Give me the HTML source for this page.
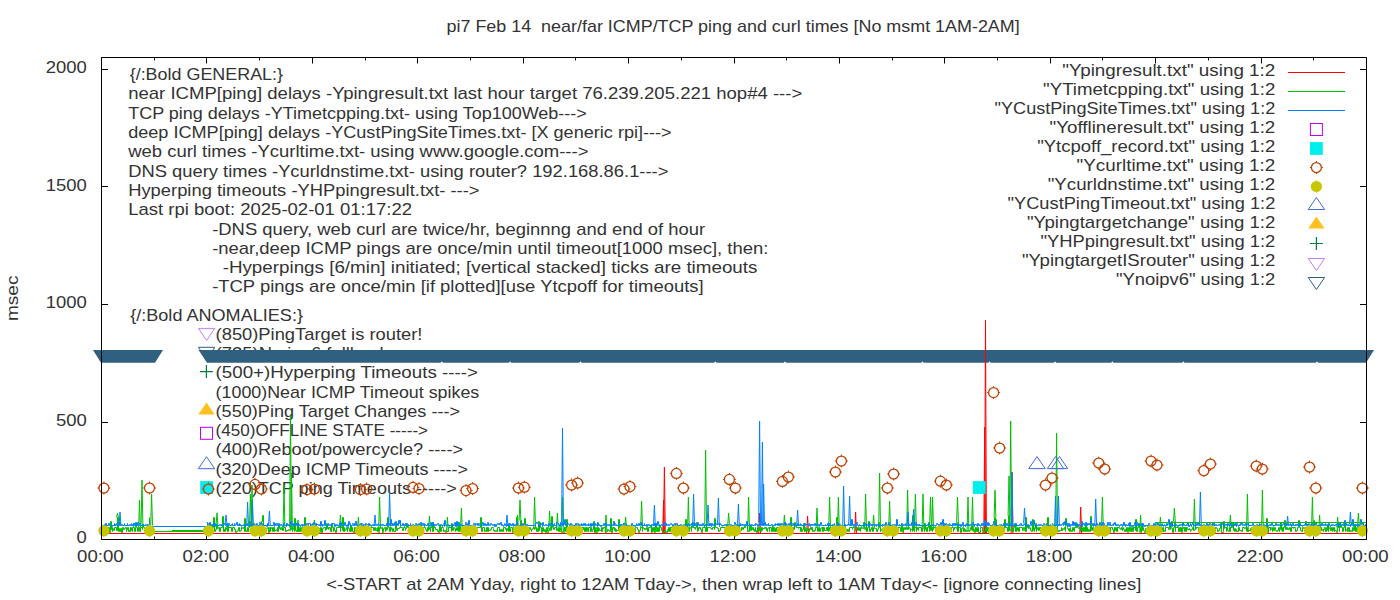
<!DOCTYPE html>
<html><head><meta charset="utf-8"><style>
html,body{margin:0;padding:0;background:#fff;width:1400px;height:600px;overflow:hidden}
svg{display:block}
text{white-space:pre;font-family:"Liberation Sans",sans-serif;font-size:16.6px;fill:#333}
</style></head><body>
<svg width="1400" height="600" viewBox="0 0 1400 600">
<rect width="1400" height="600" fill="#fff"/>
<g><path d="M101.5,539.5h6.5M1366.5,539.5h-6.5M101.5,422.5h6.5M1366.5,422.5h-6.5M101.5,304.5h6.5M1366.5,304.5h-6.5M101.5,186.5h6.5M1366.5,186.5h-6.5M101.5,69.5h6.5M1366.5,69.5h-6.5M101.5,539.5v-6M101.5,57.5v6M154.5,539.5v-3M154.5,57.5v3M206.5,539.5v-6M206.5,57.5v6M259.5,539.5v-3M259.5,57.5v3M312.5,539.5v-6M312.5,57.5v6M365.5,539.5v-3M365.5,57.5v3M417.5,539.5v-6M417.5,57.5v6M470.5,539.5v-3M470.5,57.5v3M523.5,539.5v-6M523.5,57.5v6M575.5,539.5v-3M575.5,57.5v3M628.5,539.5v-6M628.5,57.5v6M681.5,539.5v-3M681.5,57.5v3M734.5,539.5v-6M734.5,57.5v6M786.5,539.5v-3M786.5,57.5v3M839.5,539.5v-6M839.5,57.5v6M892.5,539.5v-3M892.5,57.5v3M944.5,539.5v-6M944.5,57.5v6M997.5,539.5v-3M997.5,57.5v3M1050.5,539.5v-6M1050.5,57.5v6M1102.5,539.5v-3M1102.5,57.5v3M1155.5,539.5v-6M1155.5,57.5v6M1208.5,539.5v-3M1208.5,57.5v3M1261.5,539.5v-6M1261.5,57.5v6M1313.5,539.5v-3M1313.5,57.5v3M1366.5,539.5v-6M1366.5,57.5v6" stroke="#000" stroke-width="1" fill="none"/></g>
<g><text x="446.50" y="31.75" textLength="573.22" lengthAdjust="spacingAndGlyphs" >pi7 Feb 14  near/far ICMP/TCP ping and curl times [No msmt 1AM-2AM]</text>
<text x="326.20" y="589.60" textLength="815.10" lengthAdjust="spacingAndGlyphs" >&lt;-START at 2AM Yday, right to 12AM Tday-&gt;, then wrap left to 1AM Tday&lt;- [ignore connecting lines]</text>
<text transform="translate(17.6,321.07) rotate(-90)" x="0" y="0" textLength="45.54" lengthAdjust="spacingAndGlyphs">msec</text>
<text x="76.52" y="543.40" textLength="10.28" lengthAdjust="spacingAndGlyphs" >0</text>
<text x="55.96" y="425.90" textLength="30.84" lengthAdjust="spacingAndGlyphs" >500</text>
<text x="45.68" y="308.40" textLength="41.12" lengthAdjust="spacingAndGlyphs" >1000</text>
<text x="45.68" y="190.90" textLength="41.12" lengthAdjust="spacingAndGlyphs" >1500</text>
<text x="45.68" y="73.40" textLength="41.12" lengthAdjust="spacingAndGlyphs" >2000</text>
<text x="77.12" y="561.60" textLength="46.56" lengthAdjust="spacingAndGlyphs" >00:00</text>
<text x="182.54" y="561.60" textLength="46.56" lengthAdjust="spacingAndGlyphs" >02:00</text>
<text x="287.96" y="561.60" textLength="46.56" lengthAdjust="spacingAndGlyphs" >04:00</text>
<text x="393.37" y="561.60" textLength="46.56" lengthAdjust="spacingAndGlyphs" >06:00</text>
<text x="498.79" y="561.60" textLength="46.56" lengthAdjust="spacingAndGlyphs" >08:00</text>
<text x="604.21" y="561.60" textLength="46.56" lengthAdjust="spacingAndGlyphs" >10:00</text>
<text x="709.62" y="561.60" textLength="46.56" lengthAdjust="spacingAndGlyphs" >12:00</text>
<text x="815.04" y="561.60" textLength="46.56" lengthAdjust="spacingAndGlyphs" >14:00</text>
<text x="920.46" y="561.60" textLength="46.56" lengthAdjust="spacingAndGlyphs" >16:00</text>
<text x="1025.87" y="561.60" textLength="46.56" lengthAdjust="spacingAndGlyphs" >18:00</text>
<text x="1131.29" y="561.60" textLength="46.56" lengthAdjust="spacingAndGlyphs" >20:00</text>
<text x="1236.71" y="561.60" textLength="46.56" lengthAdjust="spacingAndGlyphs" >22:00</text>
<text x="1342.12" y="561.60" textLength="46.56" lengthAdjust="spacingAndGlyphs" >00:00</text>
<text x="129.70" y="79.70" textLength="153.35" lengthAdjust="spacingAndGlyphs" >{/:Bold GENERAL:}</text>
<text x="128.20" y="99.40" textLength="674.08" lengthAdjust="spacingAndGlyphs" >near ICMP[ping] delays -Ypingresult.txt last hour target 76.239.205.221 hop#4 ---&gt;</text>
<text x="128.20" y="118.80" textLength="458.57" lengthAdjust="spacingAndGlyphs" >TCP ping delays -YTimetcpping.txt- using Top100Web---&gt;</text>
<text x="128.20" y="138.10" textLength="543.44" lengthAdjust="spacingAndGlyphs" >deep ICMP[ping] delays -YCustPingSiteTimes.txt- [X generic rpi]---&gt;</text>
<text x="128.20" y="157.40" textLength="460.25" lengthAdjust="spacingAndGlyphs" >web curl times -Ycurltime.txt- using www.google.com---&gt;</text>
<text x="128.20" y="176.60" textLength="540.22" lengthAdjust="spacingAndGlyphs" >DNS query times -Ycurldnstime.txt- using router? 192.168.86.1---&gt;</text>
<text x="128.20" y="195.90" textLength="351.35" lengthAdjust="spacingAndGlyphs" >Hyperping timeouts -YHPpingresult.txt- ---&gt;</text>
<text x="128.20" y="215.10" textLength="283.84" lengthAdjust="spacingAndGlyphs" >Last rpi boot: 2025-02-01 01:17:22</text>
<text x="212.20" y="234.60" textLength="493.01" lengthAdjust="spacingAndGlyphs" >-DNS query, web curl are twice/hr, beginnng and end of hour</text>
<text x="212.20" y="253.60" textLength="556.20" lengthAdjust="spacingAndGlyphs" >-near,deep ICMP pings are once/min until timeout[1000 msec], then:</text>
<text x="212.20" y="272.70" textLength="545.24" lengthAdjust="spacingAndGlyphs" >  -Hyperpings [6/min] initiated; [vertical stacked] ticks are timeouts</text>
<text x="212.20" y="291.70" textLength="491.40" lengthAdjust="spacingAndGlyphs" >-TCP pings are once/min [if plotted][use Ytcpoff for timeouts]</text>
<text x="130.20" y="320.60" textLength="172.76" lengthAdjust="spacingAndGlyphs" >{/:Bold ANOMALIES:}</text>
<text x="215.60" y="340.00" textLength="206.78" lengthAdjust="spacingAndGlyphs" >(850)PingTarget is router!</text>
<text x="215.60" y="359.20" textLength="173.22" lengthAdjust="spacingAndGlyphs" >(725)No ipv6 fallback</text>
<text x="215.60" y="378.40" textLength="262.26" lengthAdjust="spacingAndGlyphs" >(500+)Hyperping Timeouts ----&gt;</text>
<text x="215.60" y="397.60" textLength="263.70" lengthAdjust="spacingAndGlyphs" >(1000)Near ICMP Timeout spikes</text>
<text x="215.60" y="416.80" textLength="244.48" lengthAdjust="spacingAndGlyphs" >(550)Ping Target Changes ---&gt;</text>
<text x="215.60" y="436.00" textLength="212.49" lengthAdjust="spacingAndGlyphs" >(450)OFFLINE STATE -----&gt;</text>
<text x="215.60" y="455.20" textLength="247.55" lengthAdjust="spacingAndGlyphs" >(400)Reboot/powercycle? ----&gt;</text>
<text x="215.60" y="474.60" textLength="252.41" lengthAdjust="spacingAndGlyphs" >(320)Deep ICMP Timeouts ----&gt;</text>
<text x="215.60" y="494.00" textLength="241.14" lengthAdjust="spacingAndGlyphs" >(220)TCP ping Timeouts -----&gt;</text>
<text x="1062.39" y="75.80" textLength="212.91" lengthAdjust="spacingAndGlyphs" >&quot;Ypingresult.txt&quot; using 1:2</text>
<text x="1043.09" y="94.80" textLength="232.21" lengthAdjust="spacingAndGlyphs" >&quot;YTimetcpping.txt&quot; using 1:2</text>
<text x="994.59" y="113.80" textLength="280.71" lengthAdjust="spacingAndGlyphs" >&quot;YCustPingSiteTimes.txt&quot; using 1:2</text>
<text x="1049.60" y="132.80" textLength="225.70" lengthAdjust="spacingAndGlyphs" >&quot;Yofflineresult.txt&quot; using 1:2</text>
<text x="1037.18" y="151.80" textLength="238.12" lengthAdjust="spacingAndGlyphs" >&quot;Ytcpoff_record.txt&quot; using 1:2</text>
<text x="1076.57" y="170.80" textLength="198.73" lengthAdjust="spacingAndGlyphs" >&quot;Ycurltime.txt&quot; using 1:2</text>
<text x="1047.68" y="189.80" textLength="227.62" lengthAdjust="spacingAndGlyphs" >&quot;Ycurldnstime.txt&quot; using 1:2</text>
<text x="1007.57" y="208.80" textLength="267.73" lengthAdjust="spacingAndGlyphs" >&quot;YCustPingTimeout.txt&quot; using 1:2</text>
<text x="1026.93" y="227.80" textLength="248.37" lengthAdjust="spacingAndGlyphs" >&quot;Ypingtargetchange&quot; using 1:2</text>
<text x="1040.50" y="246.80" textLength="234.80" lengthAdjust="spacingAndGlyphs" >&quot;YHPpingresult.txt&quot; using 1:2</text>
<text x="1022.03" y="265.80" textLength="253.27" lengthAdjust="spacingAndGlyphs" >&quot;YpingtargetISrouter&quot; using 1:2</text>
<text x="1115.99" y="284.80" textLength="159.31" lengthAdjust="spacingAndGlyphs" >&quot;Ynoipv6&quot; using 1:2</text></g>
<g><line x1="1288" y1="72.50" x2="1345" y2="72.50" stroke="#ff0000" stroke-width="1.2"/>
<line x1="1288" y1="91.50" x2="1345" y2="91.50" stroke="#00c000" stroke-width="1.2"/>
<line x1="1288" y1="110.50" x2="1345" y2="110.50" stroke="#0080ff" stroke-width="1.2"/>
<rect x="1310.40" y="123.50" width="12" height="12" fill="none" stroke="#c000ff" stroke-width="1"/>
<rect x="1310.00" y="142.10" width="12.8" height="12.8" fill="#00eeee"/>
<circle cx="1316.40" cy="167.50" r="5.0" fill="none" stroke="#c04000" stroke-width="1.25"/><path d="M1316.40,161.00v2M1316.40,172.00v2M1309.90,167.50h2M1320.90,167.50h2" stroke="#c04000" stroke-width="1"/>
<circle cx="1316.40" cy="186.50" r="5.6" fill="#c8c800"/><path d="M1316.40,180.30v12.4" stroke="#c8c800" stroke-width="1"/>
<polygon points="1308.20,209.50 1324.60,209.50 1316.40,197.50" fill="none" stroke="#4169e1" stroke-width="1"/>
<polygon points="1308.20,228.50 1324.60,228.50 1316.40,216.50" fill="#ffc020"/>
<path d="M1309.90,243.50H1322.90M1316.40,237.00V250.00" stroke="#008040" stroke-width="1.2" fill="none"/>
<polygon points="1308.20,258.50 1324.60,258.50 1316.40,270.50" fill="none" stroke="#c080ff" stroke-width="1"/>
<polygon points="1308.20,277.50 1324.60,277.50 1316.40,289.50" fill="none" stroke="#306080" stroke-width="1"/>
<polygon points="198.40,328.40 214.80,328.40 206.60,340.40" fill="none" stroke="#c080ff" stroke-width="1"/>
<polygon points="198.40,347.30 214.80,347.30 206.60,359.30" fill="none" stroke="#306080" stroke-width="1"/>
<path d="M199.90,371.60H212.90M206.40,365.10V378.10" stroke="#008040" stroke-width="1.2" fill="none"/>
<polygon points="198.30,414.40 214.70,414.40 206.50,402.40" fill="#ffc020"/>
<rect x="200.50" y="427.30" width="12" height="12" fill="none" stroke="#c000ff" stroke-width="1"/>
<polygon points="198.30,468.70 214.70,468.70 206.50,456.70" fill="none" stroke="#4169e1" stroke-width="1"/>
<rect x="200.20" y="481.10" width="12.8" height="12.8" fill="#00eeee"/></g>
<g><path d="M101.5,533.5H149.5M206.5,533.5H1366.5M662.70,533.5L663.60,500.0L664.50,533.5M663.50,533.5L664.40,467.0L665.30,533.5M758.70,533.5L759.60,513.0L760.50,533.5M806.70,533.5L807.60,516.0L808.50,533.5M854.70,533.5L855.60,512.0L856.50,533.5M983.80,533.5L984.70,427.0L985.60,533.5M984.60,533.5L985.50,320.0L986.40,533.5M1011.10,533.5L1012.00,472.0L1012.90,533.5M1079.80,533.5L1080.70,507.0L1081.60,533.5" fill="none" stroke="#ff0000" stroke-width="1"/>
<path d="M101.5,527.5H102.5V531.5H102.5V528.5H103.5V531.5H103.5V529.5H104.5V530.5H104.5V527.5H105.5V528.5H105.5V527.5H106.5V529.5H106.5V532.5H107.5V531.5H107.5V527.5H108.5V528.5H108.5V527.5H109.5V532.5H110.5V530.5H110.5V521.5H111.5V529.5H111.5V527.5H112.5V531.5H112.5V528.5H113.5V530.5H114.5V527.5H116.5V530.5H117.5V517.5H118.5V531.5H118.5V528.5H119.5V531.5H120.5V528.5H121.5V532.5H122.5V527.5H123.5V529.5H124.5V528.5H125.5V527.5H126.5V531.5H126.5V529.5H127.5V527.5H128.5V531.5H129.5V530.5H129.5V531.5H130.5V527.5H131.5V530.5H131.5V528.5H132.5V531.5H132.5V527.5H134.5V531.5H135.5V527.5H135.5V522.5H136.5V527.5H137.5V531.5H137.5V530.5H138.5V528.5H138.5V527.5H139.5V530.5H139.5V531.5H140.5V527.5H142.5V529.5H142.5V524.5H143.5V527.5H144.5V528.5H145.5V531.5H146.5V530.5H147.5V531.5H147.5V527.5H149.5V531.5H149.5V517.5H149.5M206.5,527.5H208.5V529.5H208.5V527.5H209.5V528.5H209.5V532.5H210.5V528.5H210.5V527.5H211.5V524.5H212.5V527.5H213.5V517.5H214.5V531.5H215.5V529.5H216.5V524.5H217.5V528.5H218.5V527.5H219.5V531.5H219.5V529.5H220.5V531.5H220.5V527.5H222.5V516.5H223.5V531.5H223.5V529.5H224.5V531.5H224.5V529.5H225.5V531.5H225.5V527.5H226.5V529.5H227.5V531.5H227.5V524.5H228.5V531.5H228.5V527.5H231.5V531.5H232.5V527.5H234.5V529.5H235.5V532.5H236.5V531.5H237.5V530.5H238.5V527.5H239.5V531.5H240.5V530.5H241.5V527.5H242.5V528.5H243.5V527.5H244.5V531.5H244.5V518.5H245.5V531.5H245.5V530.5H246.5V531.5H247.5V527.5H247.5V530.5H248.5V531.5H248.5V527.5H249.5V521.5H250.5V526.5H251.5V531.5H251.5V527.5H253.5V528.5H254.5V530.5H254.5V527.5H255.5V529.5H257.5V527.5H258.5V529.5H259.5V527.5H260.5V530.5H261.5V531.5H261.5V521.5H262.5V515.5H263.5V527.5H264.5V529.5H265.5V531.5H265.5V530.5H266.5V528.5H267.5V527.5H268.5V532.5H269.5V529.5H269.5V527.5H270.5V531.5H270.5V527.5H271.5V528.5H272.5V531.5H272.5V527.5H273.5V531.5H273.5V527.5H274.5V531.5H274.5V530.5H276.5V529.5H277.5V527.5H277.5V531.5H278.5V525.5H279.5V528.5H279.5V527.5H280.5V529.5H281.5V527.5H282.5V530.5H283.5V527.5H285.5V531.5H286.5V530.5H288.5V529.5H289.5V530.5H290.5V527.5H291.5V529.5H292.5V531.5H292.5V527.5H293.5V529.5H294.5V531.5H294.5V518.5H295.5V530.5H296.5V531.5H297.5V527.5H297.5V528.5H298.5V531.5H299.5V527.5H300.5V531.5H301.5V527.5H302.5V531.5H302.5V527.5H303.5V529.5H304.5V531.5H304.5V517.5H305.5V531.5H305.5V527.5H306.5V531.5H307.5V527.5H308.5V531.5H308.5V529.5H309.5V527.5H310.5V528.5H312.5V527.5H313.5V528.5H314.5V531.5H315.5V527.5H316.5V529.5H316.5V527.5H318.5V528.5H319.5V532.5H320.5V531.5H320.5V527.5H321.5V532.5H322.5V528.5H323.5V527.5H325.5V530.5H325.5V527.5H326.5V529.5H326.5V523.5H327.5V528.5H328.5V529.5H328.5V527.5H329.5V528.5H329.5V527.5H330.5V531.5H331.5V523.5H332.5V527.5H333.5V531.5H333.5V527.5H334.5V530.5H335.5V532.5H336.5V527.5H339.5V523.5H340.5V531.5H340.5V527.5H342.5V530.5H342.5V517.5H343.5V531.5H343.5V527.5H344.5V531.5H344.5V530.5H345.5V529.5H346.5V527.5H347.5V531.5H347.5V527.5H348.5V528.5H349.5V531.5H350.5V525.5H351.5V531.5H351.5V527.5H352.5V531.5H353.5V532.5H354.5V527.5H355.5V530.5H356.5V527.5H357.5V528.5H357.5V527.5H358.5V529.5H359.5V527.5H360.5V530.5H361.5V531.5H363.5V527.5H364.5V531.5H364.5V527.5H365.5V528.5H365.5V531.5H367.5V532.5H368.5V531.5H368.5V529.5H369.5V530.5H370.5V527.5H373.5V530.5H374.5V527.5H375.5V530.5H376.5V529.5H376.5V528.5H377.5V531.5H377.5V527.5H378.5V531.5H378.5V532.5H379.5V531.5H379.5V527.5H380.5V528.5H381.5V527.5H382.5V532.5H383.5V531.5H383.5V528.5H384.5V527.5H385.5V531.5H385.5V527.5H386.5V530.5H386.5V529.5H387.5V527.5H387.5V517.5H388.5V527.5H389.5V531.5H389.5V527.5H390.5V531.5H390.5V527.5H391.5V529.5H392.5V531.5H392.5V528.5H393.5V531.5H395.5V529.5H395.5V521.5H396.5V529.5H396.5V530.5H397.5V528.5H399.5V527.5H402.5V528.5H402.5V530.5H403.5V527.5H405.5V530.5H405.5V528.5H406.5V527.5H406.5V523.5H407.5V527.5H409.5V530.5H410.5V529.5H410.5V527.5H412.5V531.5H412.5V524.5H413.5V528.5H414.5V531.5H415.5V527.5H416.5V531.5H416.5V530.5H417.5V531.5H417.5V527.5H418.5V531.5H418.5V524.5H419.5V530.5H419.5V529.5H420.5V531.5H420.5V527.5H425.5V529.5H426.5V531.5H427.5V527.5H428.5V530.5H428.5V527.5H429.5V529.5H430.5V531.5H430.5V527.5H432.5V531.5H432.5V522.5H433.5V531.5H433.5V527.5H435.5V529.5H437.5V531.5H437.5V530.5H438.5V532.5H439.5V531.5H439.5V524.5H440.5V531.5H440.5V530.5H441.5V531.5H441.5V527.5H443.5V528.5H443.5V531.5H444.5V530.5H445.5V531.5H445.5V532.5H446.5V531.5H448.5V527.5H451.5V531.5H451.5V523.5H452.5V530.5H453.5V527.5H454.5V528.5H455.5V531.5H455.5V530.5H456.5V527.5H457.5V530.5H458.5V531.5H458.5V522.5H459.5V531.5H459.5V527.5H460.5V531.5H460.5V530.5H461.5V529.5H461.5V530.5H462.5V531.5H462.5V527.5H463.5V531.5H463.5V527.5H464.5V531.5H465.5V529.5H465.5V527.5H466.5V531.5H466.5V527.5H469.5V531.5H470.5V528.5H470.5V527.5H471.5V532.5H472.5V531.5H472.5V527.5H474.5V529.5H475.5V527.5H480.5V517.5H481.5V531.5H482.5V527.5H484.5V531.5H484.5V530.5H485.5V531.5H486.5V527.5H487.5V531.5H487.5V527.5H488.5V531.5H488.5V530.5H490.5V529.5H491.5V527.5H493.5V528.5H493.5V530.5H494.5V531.5H494.5V530.5H495.5V531.5H496.5V530.5H497.5V531.5H497.5V527.5H499.5V531.5H500.5V529.5H500.5V530.5H501.5V531.5H501.5V529.5H502.5V531.5H502.5V530.5H503.5V531.5H503.5V527.5H505.5V529.5H506.5V531.5H506.5V528.5H507.5V530.5H508.5V531.5H508.5V525.5H509.5V531.5H510.5V528.5H510.5V527.5H512.5V532.5H513.5V531.5H513.5V527.5H514.5V531.5H515.5V527.5H516.5V531.5H516.5V517.5H517.5V528.5H518.5V530.5H518.5V531.5H519.5V527.5H519.5V531.5H520.5V520.5H521.5V531.5H521.5V529.5H523.5V524.5H524.5V531.5H524.5V518.5H525.5V530.5H525.5V529.5H526.5V530.5H526.5V532.5H527.5V527.5H528.5V528.5H529.5V531.5H529.5V527.5H530.5V529.5H531.5V531.5H531.5V529.5H532.5V528.5H533.5V527.5H534.5V529.5H534.5V528.5H535.5V527.5H536.5V531.5H537.5V528.5H538.5V531.5H538.5V521.5H539.5V530.5H539.5V522.5H540.5V527.5H541.5V532.5H542.5V531.5H542.5V527.5H543.5V531.5H544.5V529.5H545.5V532.5H546.5V527.5H547.5V531.5H547.5V532.5H548.5V530.5H549.5V528.5H549.5V529.5H550.5V530.5H551.5V516.5H552.5V527.5H553.5V529.5H554.5V527.5H556.5V528.5H556.5V530.5H557.5V528.5H558.5V531.5H559.5V527.5H560.5V530.5H560.5V531.5H561.5V532.5H562.5V531.5H563.5V532.5H564.5V531.5H564.5V527.5H565.5V531.5H565.5V527.5H566.5V531.5H566.5V519.5H567.5V527.5H570.5V531.5H570.5V527.5H571.5V532.5H572.5V527.5H573.5V531.5H573.5V529.5H574.5V531.5H574.5V528.5H575.5V531.5H575.5V530.5H576.5V531.5H577.5V527.5H578.5V528.5H579.5V527.5H583.5V529.5H583.5V527.5H584.5V531.5H584.5V529.5H585.5V531.5H585.5V527.5H586.5V531.5H586.5V527.5H587.5V530.5H587.5V531.5H588.5V527.5H590.5V531.5H590.5V527.5H591.5V531.5H592.5V530.5H592.5V529.5H593.5V521.5H594.5V532.5H595.5V527.5H596.5V529.5H596.5V532.5H597.5V531.5H597.5V527.5H598.5V531.5H598.5V528.5H599.5V530.5H601.5V531.5H601.5V527.5H602.5V531.5H602.5V528.5H603.5V527.5H605.5V529.5H605.5V532.5H606.5V531.5H607.5V529.5H608.5V530.5H609.5V531.5H610.5V518.5H611.5V530.5H611.5V532.5H612.5V527.5H613.5V528.5H613.5V527.5H614.5V530.5H614.5V528.5H615.5V531.5H615.5V529.5H616.5V531.5H616.5V530.5H618.5V519.5H619.5V530.5H619.5V529.5H620.5V532.5H621.5V530.5H622.5V532.5H623.5V523.5H624.5V531.5H625.5V527.5H626.5V531.5H627.5V527.5H628.5V531.5H629.5V530.5H629.5V527.5H630.5V531.5H630.5V529.5H631.5V531.5H632.5V530.5H633.5V529.5H634.5V532.5H635.5V528.5H635.5V527.5H637.5V529.5H638.5V531.5H638.5V532.5H639.5V530.5H640.5V527.5H642.5V531.5H642.5V527.5H643.5V528.5H644.5V529.5H644.5V528.5H645.5V529.5H646.5V527.5H647.5V531.5H648.5V527.5H650.5V525.5H651.5V532.5H652.5V531.5H652.5V527.5H653.5V531.5H653.5V527.5H654.5V530.5H654.5V532.5H655.5V531.5H655.5V523.5H656.5V529.5H656.5V531.5H657.5V527.5H658.5V531.5H659.5V525.5H660.5V527.5H661.5V530.5H662.5V532.5H664.5V530.5H665.5V531.5H666.5V532.5H667.5V530.5H667.5V529.5H668.5V531.5H668.5V527.5H669.5V531.5H670.5V527.5H672.5V531.5H672.5V528.5H673.5V530.5H673.5V527.5H676.5V529.5H677.5V531.5H677.5V530.5H678.5V531.5H678.5V532.5H679.5V531.5H680.5V532.5H681.5V531.5H681.5V529.5H682.5V530.5H683.5V529.5H684.5V531.5H684.5V527.5H685.5V519.5H686.5V531.5H686.5V530.5H687.5V531.5H687.5V527.5H688.5V530.5H689.5V531.5H689.5V528.5H690.5V527.5H691.5V531.5H691.5V525.5H692.5V527.5H694.5V528.5H694.5V527.5H695.5V529.5H695.5V527.5H696.5V522.5H697.5V531.5H697.5V530.5H698.5V527.5H699.5V528.5H699.5V527.5H700.5V529.5H701.5V532.5H702.5V531.5H702.5V527.5H705.5V531.5H705.5V527.5H706.5V531.5H706.5V527.5H707.5V531.5H707.5V527.5H710.5V528.5H711.5V529.5H712.5V527.5H714.5V529.5H714.5V518.5H715.5V527.5H717.5V528.5H718.5V531.5H719.5V530.5H720.5V527.5H725.5V530.5H726.5V524.5H727.5V529.5H727.5V527.5H728.5V531.5H728.5V525.5H729.5V529.5H730.5V528.5H731.5V531.5H732.5V530.5H732.5V527.5H734.5V529.5H736.5V531.5H736.5V532.5H738.5V529.5H738.5V524.5H739.5V530.5H740.5V531.5H740.5V530.5H741.5V527.5H742.5V529.5H743.5V527.5H745.5V525.5H746.5V523.5H747.5V531.5H748.5V530.5H749.5V531.5H749.5V530.5H750.5V525.5H751.5V530.5H751.5V527.5H752.5V529.5H752.5V527.5H753.5V530.5H753.5V529.5H754.5V531.5H755.5V527.5H755.5V530.5H756.5V532.5H757.5V527.5H758.5V530.5H759.5V527.5H760.5V531.5H760.5V528.5H761.5V531.5H761.5V527.5H762.5V530.5H762.5V528.5H764.5V527.5H765.5V528.5H765.5V527.5H766.5V530.5H767.5V531.5H767.5V528.5H768.5V527.5H769.5V531.5H769.5V527.5H771.5V531.5H772.5V526.5H773.5V531.5H773.5V527.5H774.5V531.5H775.5V528.5H775.5V531.5H776.5V527.5H778.5V530.5H779.5V531.5H779.5V527.5H780.5V528.5H780.5V532.5H781.5V527.5H782.5V529.5H782.5V530.5H784.5V531.5H784.5V527.5H785.5V528.5H785.5V531.5H786.5V527.5H788.5V531.5H788.5V527.5H789.5V528.5H790.5V517.5H791.5V528.5H791.5V527.5H792.5V531.5H793.5V527.5H794.5V529.5H794.5V522.5H795.5V526.5H796.5V527.5H798.5V528.5H798.5V527.5H800.5V531.5H800.5V527.5H801.5V531.5H802.5V529.5H803.5V523.5H804.5V531.5H804.5V527.5H805.5V528.5H805.5V531.5H806.5V528.5H807.5V530.5H808.5V531.5H809.5V528.5H809.5V529.5H810.5V527.5H811.5V529.5H811.5V527.5H812.5V531.5H813.5V530.5H814.5V531.5H814.5V530.5H815.5V527.5H817.5V531.5H818.5V527.5H819.5V531.5H820.5V528.5H821.5V527.5H822.5V531.5H822.5V527.5H823.5V531.5H823.5V527.5H824.5V530.5H826.5V527.5H827.5V530.5H827.5V527.5H828.5V531.5H828.5V530.5H829.5V527.5H830.5V528.5H831.5V531.5H832.5V528.5H832.5V529.5H833.5V527.5H834.5V531.5H835.5V530.5H836.5V531.5H836.5V517.5H837.5V527.5H838.5V529.5H839.5V531.5H839.5V527.5H840.5V530.5H840.5V527.5H841.5V530.5H841.5V527.5H842.5V530.5H842.5V527.5H843.5V528.5H843.5V527.5H844.5V531.5H844.5V527.5H845.5V529.5H847.5V531.5H847.5V529.5H848.5V531.5H849.5V527.5H852.5V529.5H852.5V527.5H855.5V530.5H855.5V527.5H857.5V530.5H858.5V527.5H859.5V530.5H860.5V531.5H860.5V527.5H861.5V528.5H861.5V527.5H862.5V528.5H863.5V527.5H863.5V522.5H864.5V527.5H865.5V529.5H866.5V527.5H866.5V531.5H867.5V527.5H868.5V521.5H869.5V531.5H869.5V529.5H870.5V531.5H870.5V529.5H871.5V527.5H872.5V531.5H873.5V527.5H874.5V528.5H876.5V531.5H877.5V529.5H878.5V527.5H878.5V522.5H879.5V527.5H880.5V531.5H880.5V530.5H881.5V529.5H882.5V528.5H883.5V531.5H883.5V529.5H885.5V527.5H886.5V531.5H886.5V529.5H887.5V531.5H887.5V527.5H888.5V528.5H890.5V530.5H890.5V527.5H891.5V529.5H892.5V530.5H893.5V527.5H895.5V529.5H895.5V527.5H896.5V529.5H897.5V527.5H898.5V528.5H898.5V527.5H900.5V531.5H900.5V528.5H901.5V531.5H901.5V524.5H902.5V531.5H902.5V532.5H903.5V527.5H904.5V529.5H905.5V527.5H906.5V529.5H907.5V527.5H908.5V529.5H908.5V527.5H909.5V528.5H910.5V531.5H910.5V529.5H912.5V531.5H912.5V515.5H913.5V530.5H913.5V527.5H914.5V531.5H914.5V527.5H916.5V531.5H916.5V527.5H917.5V529.5H918.5V530.5H918.5V527.5H921.5V531.5H921.5V529.5H922.5V531.5H922.5V527.5H923.5V528.5H924.5V531.5H924.5V523.5H925.5V529.5H926.5V531.5H926.5V527.5H927.5V531.5H927.5V527.5H928.5V522.5H929.5V531.5H929.5V527.5H930.5V530.5H930.5V525.5H931.5V530.5H931.5V527.5H932.5V531.5H932.5V529.5H933.5V527.5H935.5V529.5H936.5V527.5H937.5V531.5H938.5V530.5H939.5V528.5H939.5V527.5H940.5V531.5H940.5V528.5H942.5V530.5H942.5V532.5H943.5V527.5H944.5V531.5H944.5V527.5H946.5V530.5H948.5V527.5H949.5V531.5H949.5V527.5H950.5V529.5H951.5V531.5H951.5V527.5H953.5V531.5H953.5V529.5H954.5V527.5H956.5V528.5H956.5V527.5H957.5V531.5H957.5V522.5H958.5V531.5H958.5V527.5H960.5V532.5H961.5V528.5H962.5V527.5H963.5V531.5H963.5V528.5H964.5V531.5H965.5V529.5H965.5V531.5H966.5V530.5H967.5V531.5H968.5V530.5H969.5V531.5H969.5V530.5H970.5V529.5H970.5V527.5H971.5V525.5H972.5V530.5H973.5V531.5H973.5V529.5H974.5V531.5H974.5V532.5H975.5V527.5H976.5V531.5H977.5V527.5H978.5V532.5H980.5V529.5H980.5V527.5H982.5V531.5H982.5V532.5H984.5V530.5H985.5V531.5H985.5V527.5H986.5V531.5H986.5V527.5H987.5V531.5H987.5V527.5H988.5V531.5H988.5V532.5H989.5V531.5H990.5V527.5H991.5V530.5H992.5V531.5H993.5V527.5H994.5V531.5H994.5V517.5H995.5V528.5H995.5V519.5H996.5V527.5H997.5V529.5H997.5V527.5H998.5V528.5H998.5V527.5H999.5V529.5H1000.5V527.5H1001.5V528.5H1002.5V527.5H1003.5V530.5H1004.5V531.5H1004.5V519.5H1005.5V527.5H1007.5V531.5H1007.5V529.5H1008.5V531.5H1008.5V515.5H1009.5V530.5H1012.5V531.5H1012.5V528.5H1013.5V531.5H1013.5V527.5H1014.5V523.5H1015.5V531.5H1016.5V527.5H1017.5V530.5H1018.5V531.5H1018.5V527.5H1019.5V531.5H1019.5V527.5H1022.5V530.5H1023.5V529.5H1023.5V527.5H1024.5V529.5H1024.5V530.5H1025.5V531.5H1025.5V517.5H1026.5V531.5H1026.5V527.5H1027.5V524.5H1028.5V528.5H1029.5V527.5H1030.5V530.5H1031.5V531.5H1032.5V519.5H1033.5V530.5H1033.5V527.5H1034.5V531.5H1034.5V528.5H1035.5V523.5H1036.5V531.5H1036.5V529.5H1037.5V527.5H1038.5V530.5H1039.5V527.5H1040.5V528.5H1040.5V532.5H1041.5V527.5H1042.5V531.5H1042.5V527.5H1043.5V528.5H1044.5V527.5H1044.5V531.5H1045.5V530.5H1046.5V527.5H1047.5V517.5H1048.5V530.5H1049.5V527.5H1051.5V531.5H1051.5V532.5H1052.5V529.5H1052.5V531.5H1053.5V527.5H1054.5V531.5H1054.5V528.5H1055.5V532.5H1056.5V531.5H1056.5V527.5H1057.5V531.5H1058.5V530.5H1058.5V531.5H1059.5V530.5H1061.5V527.5H1061.5V530.5H1062.5V528.5H1063.5V529.5H1064.5V527.5H1065.5V531.5H1065.5V518.5H1066.5V523.5H1067.5V527.5H1067.5V528.5H1068.5V530.5H1069.5V531.5H1069.5V528.5H1070.5V527.5H1070.5V531.5H1071.5V530.5H1072.5V531.5H1072.5V527.5H1073.5V530.5H1074.5V531.5H1074.5V527.5H1076.5V523.5H1077.5V527.5H1078.5V528.5H1079.5V527.5H1080.5V531.5H1080.5V527.5H1081.5V530.5H1082.5V531.5H1082.5V527.5H1083.5V531.5H1084.5V527.5H1085.5V531.5H1085.5V523.5H1086.5V531.5H1086.5V527.5H1087.5V531.5H1088.5V529.5H1089.5V531.5H1089.5V530.5H1090.5V531.5H1090.5V516.5H1091.5V530.5H1092.5V527.5H1093.5V530.5H1094.5V531.5H1095.5V527.5H1097.5V530.5H1098.5V532.5H1099.5V531.5H1100.5V527.5H1101.5V531.5H1102.5V527.5H1103.5V531.5H1103.5V527.5H1104.5V529.5H1105.5V531.5H1105.5V528.5H1106.5V531.5H1107.5V527.5H1108.5V528.5H1109.5V527.5H1109.5V532.5H1110.5V531.5H1110.5V527.5H1112.5V529.5H1113.5V532.5H1114.5V531.5H1114.5V527.5H1115.5V530.5H1116.5V531.5H1116.5V527.5H1117.5V531.5H1117.5V527.5H1119.5V528.5H1120.5V529.5H1121.5V527.5H1122.5V530.5H1122.5V528.5H1123.5V527.5H1123.5V529.5H1124.5V531.5H1125.5V529.5H1126.5V531.5H1126.5V527.5H1127.5V531.5H1127.5V532.5H1128.5V531.5H1128.5V527.5H1129.5V531.5H1129.5V527.5H1130.5V531.5H1131.5V527.5H1132.5V531.5H1132.5V527.5H1133.5V531.5H1133.5V527.5H1135.5V530.5H1135.5V519.5H1136.5V531.5H1137.5V529.5H1137.5V527.5H1138.5V523.5H1139.5V527.5H1140.5V531.5H1140.5V532.5H1141.5V524.5H1142.5V530.5H1142.5V527.5H1143.5V530.5H1144.5V531.5H1144.5V532.5H1145.5V528.5H1146.5V531.5H1147.5V528.5H1147.5V525.5H1148.5V531.5H1148.5V527.5H1149.5V530.5H1149.5V529.5H1150.5V527.5H1151.5V531.5H1151.5V527.5H1154.5V531.5H1155.5V528.5H1155.5V530.5H1156.5V527.5H1158.5V531.5H1158.5V530.5H1159.5V531.5H1160.5V529.5H1161.5V531.5H1161.5V530.5H1162.5V531.5H1162.5V527.5H1163.5V531.5H1163.5V530.5H1164.5V531.5H1165.5V527.5H1168.5V529.5H1169.5V528.5H1169.5V524.5H1170.5V529.5H1170.5V527.5H1171.5V528.5H1172.5V532.5H1173.5V527.5H1174.5V521.5H1175.5V531.5H1175.5V527.5H1178.5V531.5H1179.5V527.5H1180.5V531.5H1180.5V527.5H1181.5V532.5H1182.5V531.5H1182.5V527.5H1183.5V528.5H1183.5V527.5H1184.5V531.5H1184.5V527.5H1185.5V531.5H1185.5V527.5H1186.5V531.5H1186.5V527.5H1187.5V528.5H1187.5V529.5H1189.5V528.5H1189.5V529.5H1190.5V531.5H1190.5V530.5H1191.5V529.5H1192.5V527.5H1193.5V530.5H1194.5V529.5H1195.5V527.5H1196.5V528.5H1196.5V527.5H1198.5V529.5H1198.5V531.5H1199.5V527.5H1201.5V528.5H1201.5V530.5H1203.5V531.5H1204.5V530.5H1205.5V527.5H1206.5V528.5H1207.5V529.5H1209.5V531.5H1209.5V532.5H1210.5V527.5H1211.5V530.5H1212.5V527.5H1214.5V532.5H1215.5V531.5H1215.5V527.5H1216.5V528.5H1217.5V531.5H1218.5V530.5H1219.5V528.5H1220.5V523.5H1221.5V529.5H1221.5V532.5H1223.5V531.5H1223.5V521.5H1224.5V528.5H1224.5V527.5H1226.5V531.5H1226.5V527.5H1227.5V530.5H1228.5V531.5H1229.5V527.5H1230.5V531.5H1230.5V527.5H1232.5V522.5H1233.5V530.5H1234.5V531.5H1234.5V528.5H1235.5V531.5H1235.5V529.5H1236.5V531.5H1238.5V527.5H1239.5V530.5H1241.5V531.5H1242.5V527.5H1244.5V528.5H1245.5V527.5H1246.5V529.5H1246.5V527.5H1247.5V531.5H1248.5V530.5H1250.5V528.5H1250.5V530.5H1251.5V531.5H1251.5V527.5H1253.5V531.5H1253.5V527.5H1254.5V531.5H1255.5V529.5H1256.5V530.5H1257.5V529.5H1258.5V530.5H1259.5V529.5H1259.5V532.5H1260.5V530.5H1261.5V531.5H1262.5V530.5H1262.5V532.5H1263.5V531.5H1263.5V530.5H1264.5V531.5H1265.5V529.5H1265.5V527.5H1266.5V528.5H1266.5V518.5H1267.5V532.5H1268.5V527.5H1270.5V530.5H1270.5V527.5H1271.5V528.5H1271.5V529.5H1272.5V531.5H1272.5V527.5H1273.5V530.5H1274.5V527.5H1275.5V529.5H1275.5V530.5H1276.5V531.5H1277.5V530.5H1278.5V527.5H1279.5V531.5H1279.5V529.5H1280.5V522.5H1281.5V530.5H1282.5V531.5H1282.5V527.5H1283.5V531.5H1283.5V527.5H1284.5V520.5H1285.5V529.5H1286.5V527.5H1287.5V529.5H1288.5V528.5H1288.5V529.5H1289.5V527.5H1290.5V531.5H1291.5V527.5H1293.5V528.5H1293.5V527.5H1295.5V528.5H1295.5V531.5H1296.5V530.5H1297.5V527.5H1298.5V520.5H1299.5V527.5H1300.5V530.5H1301.5V531.5H1302.5V527.5H1303.5V528.5H1304.5V527.5H1305.5V531.5H1305.5V527.5H1306.5V530.5H1307.5V532.5H1308.5V531.5H1308.5V527.5H1309.5V528.5H1310.5V531.5H1310.5V527.5H1312.5V531.5H1312.5V529.5H1313.5V531.5H1313.5V520.5H1314.5V530.5H1315.5V531.5H1315.5V522.5H1316.5V527.5H1317.5V531.5H1317.5V529.5H1318.5V527.5H1319.5V530.5H1320.5V527.5H1321.5V530.5H1322.5V529.5H1323.5V531.5H1323.5V529.5H1324.5V528.5H1324.5V527.5H1325.5V531.5H1326.5V529.5H1326.5V527.5H1327.5V530.5H1327.5V524.5H1328.5V531.5H1328.5V528.5H1329.5V527.5H1330.5V530.5H1331.5V527.5H1332.5V531.5H1332.5V530.5H1333.5V527.5H1334.5V531.5H1334.5V530.5H1336.5V531.5H1336.5V532.5H1337.5V531.5H1337.5V527.5H1339.5V531.5H1339.5V522.5H1340.5V527.5H1340.5V524.5H1341.5V527.5H1342.5V531.5H1342.5V530.5H1343.5V531.5H1343.5V527.5H1344.5V523.5H1345.5V531.5H1345.5V530.5H1346.5V529.5H1347.5V531.5H1347.5V527.5H1348.5V529.5H1348.5V531.5H1349.5V527.5H1349.5V531.5H1350.5V530.5H1351.5V531.5H1352.5V527.5H1353.5V530.5H1354.5V524.5H1355.5V531.5H1355.5V528.5H1356.5V531.5H1356.5V527.5H1357.5V529.5H1357.5V528.5H1358.5V526.5H1359.5V527.5H1360.5V531.5H1360.5V532.5H1361.5V531.5H1362.5V529.5H1363.5V531.5H1363.5V530.5H1365.5V528.5H1366.5V527.5H1366.5M116.60,517.5L117.50,513.0L118.40,517.5M138.60,531.5L139.50,500.0L140.40,531.5M141.10,524.5L142.00,480.0L142.90,524.5M150.70,525.5L151.60,494.0L152.50,525.5M216.10,524.5L217.00,513.0L217.90,524.5M249.50,526.5L250.40,494.0L251.30,526.5M251.10,527.5L252.00,485.0L252.90,527.5M283.10,527.5L284.00,485.0L284.90,527.5M289.60,527.5L290.50,414.5L291.40,527.5M290.60,529.5L291.50,473.0L292.40,529.5M297.10,531.5L298.00,520.0L298.90,531.5M313.50,531.5L314.40,520.0L315.30,531.5M339.50,527.5L340.40,515.0L341.30,527.5M357.50,529.5L358.40,517.0L359.30,529.5M378.70,527.5L379.60,497.0L380.50,527.5M428.50,529.5L429.40,516.0L430.30,529.5M446.50,531.5L447.40,517.0L448.30,531.5M460.50,530.5L461.40,508.0L462.30,530.5M516.60,528.5L517.50,515.0L518.40,528.5M519.10,520.5L520.00,500.0L520.90,520.5M533.70,528.5L534.60,497.0L535.50,528.5M548.70,529.5L549.60,511.0L550.50,529.5M556.50,528.5L557.40,513.0L558.30,528.5M561.60,531.5L562.50,497.0L563.40,531.5M605.10,531.5L606.00,515.0L606.90,531.5M624.70,527.5L625.60,517.0L626.50,527.5M640.70,527.5L641.60,501.0L642.50,527.5M687.50,530.5L688.40,497.0L689.30,530.5M704.70,527.5L705.60,450.0L706.50,527.5M727.70,525.5L728.60,513.0L729.50,525.5M747.70,530.5L748.60,497.0L749.50,530.5M783.50,527.5L784.40,515.0L785.30,527.5M816.10,527.5L817.00,508.0L817.90,527.5M828.70,527.5L829.60,497.0L830.50,527.5M837.50,529.5L838.40,497.0L839.30,529.5M864.70,529.5L865.60,494.0L866.50,529.5M872.70,527.5L873.60,515.0L874.50,527.5M878.70,527.5L879.60,473.0L880.50,527.5M888.70,528.5L889.60,501.0L890.50,528.5M906.70,527.5L907.60,490.0L908.50,527.5M914.50,527.5L915.40,494.0L916.30,527.5M922.10,527.5L923.00,494.0L923.90,527.5M929.60,525.5L930.50,497.0L931.40,525.5M931.70,529.5L932.60,497.0L933.50,529.5M956.60,522.5L957.50,497.0L958.40,522.5M967.10,530.5L968.00,497.0L968.90,530.5M971.60,530.5L972.50,497.0L973.40,530.5M994.10,517.5L995.00,490.0L995.90,517.5M1008.10,515.5L1009.00,476.0L1009.90,515.5M1009.80,530.5L1010.70,421.0L1011.60,530.5M1055.70,527.5L1056.60,433.0L1057.50,527.5M1101.50,527.5L1102.40,497.0L1103.30,527.5M1139.70,532.5L1140.60,515.0L1141.50,532.5M1159.50,529.5L1160.40,517.0L1161.30,529.5M1173.50,521.5L1174.40,508.0L1175.30,521.5M1193.50,529.5L1194.40,499.0L1195.30,529.5M1229.50,527.5L1230.40,515.0L1231.30,527.5M1246.50,531.5L1247.40,494.0L1248.30,531.5M1261.50,532.5L1262.40,490.0L1263.30,532.5M1311.50,529.5L1312.40,497.0L1313.30,529.5M1318.70,530.5L1319.60,515.0L1320.50,530.5M1336.70,527.5L1337.60,517.0L1338.50,527.5M1357.50,526.5L1358.40,513.0L1359.30,526.5" fill="none" stroke="#00c000" stroke-width="1"/>
<path d="M101.5,525.5H103.5V526.5H103.5V525.5H104.5V524.5H104.5V525.5H105.5V523.5H105.5V525.5H106.5V523.5H106.5V525.5H108.5V523.5H109.5V525.5H111.5V526.5H111.5V525.5H112.5V526.5H112.5V525.5H114.5V523.5H114.5V525.5H115.5V524.5H115.5V525.5H116.5V523.5H117.5V524.5H117.5V525.5H118.5V526.5H118.5V525.5H119.5V522.5H120.5V524.5H120.5V525.5H121.5V524.5H122.5V525.5H124.5V523.5H124.5V525.5H127.5V523.5H127.5V525.5H129.5V524.5H129.5V525.5H130.5V524.5H131.5V523.5H131.5V525.5H132.5V524.5H132.5V525.5H133.5V526.5H133.5V523.5H134.5V525.5H134.5V523.5H135.5V526.5H135.5V524.5H136.5V523.5H136.5V525.5H137.5V522.5H138.5V523.5H138.5V525.5H139.5V524.5H139.5V523.5H140.5V525.5H142.5V524.5H143.5V525.5H145.5V524.5H146.5V525.5H147.5V526.5H147.5V524.5H148.5V525.5H149.5V524.5H149.5V522.5H149.5M206.5,522.5H207.5V525.5H208.5V526.5H208.5V523.5H209.5V526.5H209.5V522.5H210.5V525.5H212.5V524.5H212.5V525.5H213.5V523.5H214.5V526.5H214.5V523.5H215.5V526.5H215.5V524.5H216.5V525.5H219.5V524.5H220.5V525.5H221.5V524.5H221.5V525.5H222.5V526.5H222.5V525.5H223.5V523.5H224.5V524.5H224.5V523.5H225.5V525.5H226.5V526.5H226.5V523.5H227.5V525.5H228.5V524.5H228.5V523.5H229.5V525.5H231.5V524.5H232.5V523.5H232.5V525.5H234.5V523.5H234.5V525.5H235.5V524.5H236.5V522.5H237.5V525.5H238.5V524.5H238.5V525.5H239.5V523.5H239.5V525.5H240.5V524.5H240.5V525.5H241.5V526.5H241.5V525.5H243.5V524.5H244.5V525.5H245.5V526.5H245.5V524.5H246.5V525.5H247.5V523.5H247.5V525.5H248.5V526.5H248.5V525.5H249.5V524.5H249.5V525.5H251.5V524.5H251.5V525.5H252.5V524.5H252.5V525.5H253.5V523.5H254.5V525.5H255.5V524.5H255.5V525.5H256.5V523.5H257.5V524.5H257.5V525.5H259.5V523.5H259.5V522.5H260.5V524.5H260.5V525.5H261.5V526.5H261.5V523.5H262.5V525.5H262.5V524.5H263.5V525.5H266.5V526.5H266.5V525.5H267.5V526.5H267.5V523.5H268.5V525.5H273.5V524.5H273.5V522.5H274.5V526.5H274.5V524.5H275.5V525.5H275.5V523.5H276.5V524.5H276.5V525.5H277.5V523.5H278.5V526.5H278.5V524.5H279.5V523.5H279.5V525.5H280.5V524.5H281.5V525.5H282.5V526.5H282.5V525.5H283.5V526.5H283.5V523.5H284.5V524.5H284.5V525.5H286.5V526.5H286.5V523.5H287.5V525.5H288.5V524.5H288.5V525.5H289.5V526.5H289.5V525.5H290.5V524.5H290.5V521.5H291.5V524.5H291.5V523.5H292.5V525.5H293.5V526.5H293.5V523.5H294.5V525.5H295.5V523.5H296.5V525.5H296.5V523.5H297.5V525.5H298.5V523.5H298.5V524.5H299.5V525.5H300.5V526.5H300.5V525.5H301.5V524.5H302.5V526.5H302.5V525.5H303.5V524.5H303.5V525.5H304.5V523.5H304.5V524.5H306.5V525.5H306.5V523.5H307.5V524.5H307.5V525.5H308.5V523.5H310.5V526.5H310.5V524.5H311.5V525.5H312.5V523.5H313.5V524.5H313.5V522.5H314.5V526.5H314.5V525.5H315.5V523.5H316.5V526.5H316.5V524.5H318.5V525.5H319.5V524.5H319.5V525.5H320.5V526.5H320.5V521.5H321.5V525.5H321.5V524.5H322.5V526.5H322.5V524.5H323.5V525.5H324.5V520.5H325.5V525.5H326.5V526.5H326.5V525.5H327.5V526.5H327.5V525.5H328.5V523.5H328.5V524.5H329.5V525.5H330.5V524.5H331.5V526.5H331.5V524.5H332.5V523.5H334.5V526.5H334.5V525.5H335.5V526.5H335.5V524.5H336.5V525.5H337.5V524.5H337.5V525.5H338.5V526.5H338.5V525.5H339.5V523.5H340.5V526.5H340.5V522.5H341.5V525.5H343.5V524.5H344.5V525.5H344.5V522.5H345.5V524.5H345.5V525.5H346.5V526.5H346.5V525.5H347.5V526.5H347.5V524.5H348.5V526.5H348.5V521.5H349.5V524.5H349.5V523.5H350.5V526.5H350.5V525.5H352.5V524.5H352.5V523.5H353.5V524.5H353.5V525.5H354.5V523.5H354.5V525.5H355.5V523.5H355.5V521.5H356.5V525.5H356.5V524.5H357.5V525.5H359.5V524.5H360.5V526.5H360.5V523.5H361.5V526.5H361.5V523.5H362.5V524.5H362.5V525.5H363.5V526.5H363.5V524.5H364.5V525.5H365.5V523.5H366.5V524.5H368.5V526.5H368.5V523.5H369.5V525.5H370.5V524.5H370.5V525.5H371.5V526.5H371.5V525.5H372.5V524.5H373.5V525.5H374.5V524.5H374.5V525.5H375.5V524.5H376.5V525.5H377.5V524.5H378.5V523.5H378.5V524.5H379.5V525.5H381.5V524.5H382.5V525.5H382.5V524.5H383.5V525.5H386.5V523.5H386.5V525.5H387.5V523.5H387.5V525.5H388.5V523.5H389.5V524.5H389.5V525.5H390.5V526.5H390.5V519.5H391.5V524.5H391.5V525.5H392.5V523.5H392.5V525.5H393.5V523.5H394.5V525.5H394.5V522.5H395.5V525.5H395.5V523.5H396.5V525.5H397.5V523.5H398.5V525.5H398.5V520.5H399.5V523.5H399.5V520.5H400.5V526.5H400.5V525.5H402.5V523.5H403.5V525.5H403.5V524.5H404.5V526.5H404.5V525.5H405.5V523.5H405.5V525.5H406.5V523.5H406.5V524.5H407.5V525.5H407.5V524.5H408.5V526.5H408.5V525.5H410.5V523.5H410.5V525.5H412.5V524.5H413.5V525.5H415.5V524.5H415.5V523.5H416.5V525.5H417.5V524.5H417.5V525.5H418.5V526.5H418.5V523.5H419.5V525.5H420.5V523.5H420.5V522.5H421.5V526.5H421.5V523.5H422.5V524.5H422.5V525.5H423.5V523.5H424.5V526.5H424.5V524.5H425.5V525.5H427.5V523.5H428.5V526.5H428.5V525.5H430.5V524.5H430.5V522.5H431.5V526.5H431.5V525.5H432.5V522.5H433.5V525.5H433.5V524.5H434.5V526.5H434.5V524.5H435.5V525.5H436.5V524.5H437.5V523.5H438.5V524.5H438.5V525.5H441.5V524.5H441.5V525.5H442.5V526.5H442.5V525.5H443.5V524.5H443.5V523.5H444.5V526.5H444.5V520.5H445.5V524.5H445.5V525.5H447.5V524.5H448.5V525.5H449.5V526.5H449.5V525.5H451.5V526.5H451.5V524.5H452.5V526.5H452.5V525.5H453.5V524.5H453.5V525.5H454.5V524.5H454.5V522.5H455.5V526.5H455.5V524.5H456.5V526.5H456.5V521.5H457.5V526.5H457.5V522.5H458.5V525.5H460.5V524.5H460.5V525.5H461.5V524.5H461.5V525.5H464.5V526.5H464.5V525.5H465.5V522.5H466.5V523.5H466.5V525.5H467.5V523.5H467.5V525.5H468.5V520.5H469.5V524.5H469.5V525.5H471.5V526.5H471.5V525.5H472.5V526.5H472.5V525.5H473.5V524.5H473.5V523.5H474.5V524.5H474.5V525.5H475.5V523.5H476.5V524.5H477.5V523.5H477.5V525.5H478.5V523.5H479.5V524.5H479.5V525.5H481.5V524.5H481.5V525.5H482.5V524.5H482.5V522.5H483.5V523.5H483.5V525.5H484.5V523.5H485.5V525.5H486.5V524.5H486.5V525.5H487.5V523.5H487.5V522.5H488.5V525.5H488.5V524.5H489.5V525.5H490.5V524.5H490.5V523.5H491.5V524.5H492.5V525.5H493.5V524.5H494.5V526.5H494.5V524.5H495.5V526.5H495.5V525.5H496.5V526.5H496.5V524.5H497.5V523.5H498.5V524.5H499.5V523.5H499.5V524.5H500.5V522.5H501.5V525.5H501.5V524.5H502.5V525.5H503.5V526.5H503.5V525.5H504.5V523.5H504.5V524.5H505.5V525.5H505.5V524.5H506.5V526.5H506.5V525.5H507.5V524.5H507.5V525.5H508.5V523.5H508.5V525.5H509.5V523.5H510.5V525.5H511.5V524.5H511.5V525.5H512.5V523.5H513.5V526.5H513.5V525.5H514.5V524.5H514.5V525.5H515.5V524.5H515.5V525.5H516.5V521.5H517.5V524.5H518.5V525.5H520.5V524.5H520.5V525.5H521.5V524.5H521.5V525.5H522.5V523.5H523.5V525.5H524.5V524.5H524.5V525.5H525.5V526.5H525.5V524.5H526.5V525.5H527.5V524.5H527.5V525.5H535.5V523.5H536.5V522.5H537.5V523.5H538.5V525.5H539.5V526.5H539.5V524.5H540.5V525.5H540.5V524.5H541.5V523.5H541.5V524.5H542.5V526.5H542.5V522.5H543.5V525.5H545.5V524.5H546.5V525.5H548.5V526.5H548.5V523.5H549.5V525.5H550.5V524.5H550.5V523.5H551.5V524.5H551.5V523.5H552.5V525.5H553.5V526.5H553.5V524.5H554.5V523.5H554.5V525.5H556.5V526.5H556.5V522.5H557.5V523.5H558.5V524.5H559.5V526.5H559.5V525.5H560.5V526.5H560.5V522.5H561.5V525.5H562.5V523.5H562.5V522.5H563.5V525.5H563.5V524.5H564.5V519.5H565.5V525.5H565.5V524.5H566.5V525.5H566.5V523.5H567.5V524.5H567.5V523.5H568.5V524.5H569.5V526.5H569.5V525.5H570.5V523.5H571.5V526.5H571.5V525.5H572.5V524.5H572.5V525.5H575.5V523.5H576.5V525.5H577.5V524.5H577.5V523.5H578.5V526.5H578.5V525.5H579.5V526.5H579.5V524.5H580.5V525.5H581.5V523.5H581.5V525.5H582.5V524.5H582.5V525.5H583.5V523.5H584.5V525.5H585.5V523.5H585.5V525.5H586.5V524.5H587.5V525.5H588.5V523.5H588.5V525.5H589.5V524.5H589.5V525.5H590.5V526.5H590.5V523.5H591.5V526.5H591.5V525.5H592.5V523.5H592.5V525.5H593.5V523.5H594.5V525.5H594.5V523.5H595.5V525.5H595.5V524.5H596.5V525.5H597.5V526.5H597.5V522.5H598.5V525.5H599.5V524.5H599.5V525.5H600.5V526.5H600.5V525.5H601.5V526.5H601.5V525.5H603.5V524.5H603.5V523.5H604.5V525.5H605.5V524.5H605.5V523.5H606.5V526.5H606.5V525.5H607.5V524.5H608.5V525.5H609.5V524.5H609.5V525.5H610.5V526.5H610.5V525.5H611.5V524.5H611.5V525.5H612.5V524.5H612.5V525.5H613.5V523.5H613.5V521.5H614.5V525.5H614.5V523.5H615.5V524.5H615.5V525.5H616.5V524.5H616.5V525.5H618.5V524.5H618.5V523.5H619.5V524.5H620.5V526.5H620.5V524.5H621.5V525.5H621.5V524.5H622.5V525.5H623.5V524.5H623.5V523.5H625.5V524.5H625.5V525.5H626.5V524.5H626.5V525.5H627.5V526.5H627.5V525.5H631.5V526.5H631.5V523.5H632.5V525.5H634.5V526.5H634.5V525.5H635.5V526.5H635.5V525.5H636.5V523.5H636.5V525.5H637.5V524.5H637.5V525.5H638.5V523.5H639.5V525.5H639.5V524.5H640.5V523.5H640.5V522.5H641.5V525.5H641.5V523.5H642.5V526.5H642.5V525.5H644.5V523.5H644.5V525.5H646.5V526.5H646.5V524.5H647.5V526.5H647.5V525.5H648.5V524.5H649.5V525.5H651.5V526.5H651.5V524.5H652.5V525.5H654.5V523.5H654.5V525.5H655.5V526.5H655.5V523.5H656.5V524.5H656.5V525.5H657.5V521.5H658.5V524.5H658.5V525.5H659.5V524.5H659.5V525.5H661.5V524.5H662.5V525.5H663.5V523.5H664.5V524.5H664.5V522.5H665.5V525.5H666.5V523.5H666.5V525.5H667.5V524.5H668.5V525.5H669.5V524.5H670.5V523.5H671.5V524.5H672.5V526.5H672.5V525.5H673.5V524.5H673.5V525.5H674.5V524.5H674.5V523.5H675.5V526.5H675.5V525.5H676.5V526.5H676.5V523.5H677.5V526.5H677.5V525.5H678.5V526.5H678.5V525.5H680.5V524.5H681.5V525.5H683.5V524.5H684.5V525.5H686.5V524.5H686.5V525.5H687.5V526.5H687.5V524.5H688.5V523.5H688.5V525.5H689.5V524.5H689.5V525.5H690.5V524.5H691.5V523.5H691.5V524.5H692.5V525.5H692.5V522.5H693.5V526.5H693.5V525.5H694.5V524.5H694.5V525.5H695.5V523.5H695.5V525.5H697.5V526.5H697.5V522.5H698.5V523.5H698.5V525.5H699.5V524.5H699.5V525.5H700.5V524.5H700.5V525.5H701.5V524.5H701.5V525.5H702.5V523.5H703.5V525.5H704.5V526.5H704.5V525.5H705.5V524.5H705.5V525.5H706.5V526.5H706.5V525.5H707.5V524.5H708.5V525.5H709.5V523.5H709.5V525.5H710.5V523.5H711.5V526.5H711.5V525.5H712.5V523.5H712.5V524.5H713.5V525.5H714.5V523.5H714.5V525.5H715.5V523.5H716.5V524.5H717.5V523.5H718.5V524.5H719.5V526.5H719.5V523.5H720.5V524.5H721.5V525.5H722.5V526.5H722.5V525.5H724.5V524.5H725.5V525.5H726.5V524.5H727.5V526.5H727.5V525.5H728.5V524.5H728.5V525.5H729.5V524.5H729.5V525.5H730.5V526.5H730.5V524.5H731.5V525.5H732.5V526.5H732.5V525.5H733.5V526.5H733.5V525.5H734.5V524.5H734.5V522.5H735.5V526.5H735.5V525.5H736.5V524.5H736.5V525.5H737.5V526.5H737.5V525.5H740.5V523.5H740.5V525.5H741.5V524.5H742.5V525.5H742.5V524.5H743.5V525.5H744.5V526.5H744.5V524.5H745.5V525.5H746.5V521.5H747.5V525.5H749.5V523.5H749.5V524.5H750.5V525.5H751.5V526.5H751.5V524.5H752.5V525.5H754.5V524.5H755.5V525.5H755.5V523.5H756.5V524.5H757.5V526.5H757.5V524.5H758.5V525.5H759.5V524.5H759.5V522.5H760.5V525.5H760.5V524.5H761.5V525.5H761.5V523.5H762.5V525.5H762.5V523.5H763.5V525.5H764.5V522.5H765.5V525.5H766.5V524.5H767.5V525.5H768.5V523.5H768.5V525.5H771.5V524.5H772.5V525.5H774.5V524.5H774.5V525.5H775.5V523.5H775.5V524.5H777.5V525.5H777.5V523.5H778.5V525.5H779.5V523.5H780.5V525.5H781.5V523.5H782.5V525.5H782.5V524.5H783.5V525.5H784.5V524.5H784.5V522.5H785.5V524.5H785.5V525.5H786.5V523.5H786.5V524.5H787.5V525.5H788.5V523.5H788.5V524.5H789.5V525.5H789.5V523.5H790.5V524.5H790.5V522.5H791.5V524.5H791.5V525.5H792.5V524.5H792.5V523.5H793.5V525.5H794.5V524.5H794.5V525.5H796.5V526.5H796.5V525.5H797.5V523.5H797.5V525.5H799.5V524.5H800.5V523.5H800.5V525.5H801.5V524.5H801.5V525.5H804.5V523.5H804.5V525.5H805.5V523.5H805.5V524.5H807.5V523.5H807.5V524.5H808.5V525.5H809.5V523.5H809.5V525.5H810.5V526.5H810.5V524.5H811.5V525.5H811.5V524.5H812.5V525.5H812.5V524.5H813.5V525.5H814.5V523.5H815.5V525.5H816.5V524.5H817.5V523.5H817.5V525.5H818.5V524.5H819.5V526.5H819.5V525.5H820.5V522.5H821.5V524.5H821.5V525.5H825.5V524.5H825.5V525.5H827.5V523.5H828.5V526.5H828.5V525.5H829.5V523.5H829.5V525.5H832.5V526.5H832.5V524.5H833.5V525.5H833.5V524.5H834.5V523.5H834.5V525.5H835.5V526.5H835.5V525.5H836.5V526.5H836.5V524.5H837.5V525.5H837.5V522.5H838.5V525.5H838.5V524.5H839.5V526.5H839.5V525.5H840.5V524.5H840.5V525.5H841.5V526.5H841.5V525.5H842.5V526.5H842.5V525.5H843.5V526.5H843.5V525.5H844.5V526.5H844.5V524.5H845.5V526.5H845.5V525.5H847.5V524.5H848.5V523.5H848.5V524.5H849.5V525.5H850.5V523.5H850.5V525.5H851.5V519.5H852.5V525.5H853.5V526.5H853.5V524.5H854.5V525.5H855.5V526.5H855.5V524.5H856.5V522.5H857.5V523.5H857.5V525.5H858.5V526.5H858.5V525.5H859.5V524.5H859.5V525.5H861.5V526.5H861.5V525.5H863.5V526.5H863.5V525.5H864.5V523.5H865.5V525.5H866.5V526.5H866.5V524.5H867.5V525.5H868.5V524.5H868.5V525.5H869.5V526.5H869.5V523.5H870.5V524.5H870.5V525.5H871.5V524.5H871.5V525.5H872.5V524.5H872.5V525.5H873.5V524.5H874.5V525.5H875.5V524.5H876.5V526.5H876.5V525.5H877.5V524.5H878.5V525.5H879.5V524.5H879.5V525.5H882.5V526.5H882.5V524.5H883.5V525.5H884.5V524.5H885.5V526.5H885.5V522.5H886.5V524.5H886.5V525.5H887.5V524.5H888.5V525.5H888.5V522.5H889.5V523.5H889.5V525.5H892.5V524.5H892.5V525.5H893.5V524.5H894.5V525.5H895.5V524.5H895.5V525.5H896.5V526.5H896.5V519.5H897.5V525.5H899.5V524.5H899.5V525.5H901.5V523.5H902.5V524.5H902.5V525.5H903.5V524.5H903.5V525.5H904.5V524.5H905.5V523.5H905.5V525.5H907.5V524.5H907.5V525.5H908.5V523.5H908.5V525.5H909.5V524.5H910.5V525.5H911.5V522.5H912.5V523.5H912.5V525.5H913.5V526.5H913.5V525.5H914.5V523.5H914.5V525.5H915.5V523.5H915.5V522.5H916.5V525.5H916.5V524.5H917.5V525.5H918.5V524.5H918.5V525.5H919.5V524.5H919.5V525.5H922.5V526.5H922.5V525.5H927.5V524.5H928.5V523.5H929.5V525.5H932.5V524.5H933.5V525.5H935.5V526.5H935.5V525.5H936.5V524.5H936.5V523.5H937.5V524.5H938.5V525.5H938.5V524.5H939.5V526.5H939.5V525.5H940.5V522.5H941.5V525.5H942.5V524.5H942.5V519.5H943.5V526.5H943.5V525.5H944.5V526.5H944.5V523.5H945.5V525.5H945.5V524.5H946.5V523.5H946.5V525.5H947.5V524.5H947.5V525.5H948.5V524.5H949.5V523.5H949.5V525.5H950.5V524.5H950.5V525.5H952.5V526.5H952.5V523.5H953.5V525.5H954.5V523.5H955.5V525.5H955.5V523.5H956.5V525.5H957.5V524.5H957.5V525.5H958.5V524.5H958.5V525.5H959.5V524.5H959.5V525.5H960.5V526.5H960.5V524.5H961.5V526.5H961.5V525.5H962.5V523.5H962.5V522.5H963.5V526.5H963.5V525.5H965.5V526.5H965.5V524.5H966.5V525.5H966.5V523.5H967.5V524.5H967.5V525.5H968.5V524.5H968.5V525.5H969.5V524.5H969.5V525.5H970.5V524.5H972.5V523.5H972.5V522.5H973.5V525.5H974.5V526.5H974.5V524.5H976.5V525.5H977.5V526.5H977.5V523.5H978.5V525.5H979.5V524.5H979.5V525.5H980.5V526.5H980.5V525.5H981.5V523.5H981.5V525.5H982.5V523.5H983.5V525.5H983.5V523.5H984.5V526.5H984.5V520.5H985.5V525.5H985.5V523.5H986.5V525.5H987.5V522.5H988.5V525.5H988.5V523.5H989.5V525.5H992.5V524.5H992.5V525.5H993.5V523.5H993.5V521.5H994.5V525.5H995.5V523.5H996.5V526.5H996.5V525.5H999.5V524.5H1000.5V525.5H1001.5V524.5H1001.5V525.5H1003.5V523.5H1003.5V525.5H1004.5V526.5H1004.5V523.5H1005.5V525.5H1006.5V524.5H1006.5V523.5H1007.5V525.5H1009.5V523.5H1010.5V525.5H1010.5V523.5H1011.5V526.5H1011.5V522.5H1012.5V525.5H1013.5V526.5H1013.5V525.5H1014.5V524.5H1015.5V525.5H1015.5V523.5H1016.5V526.5H1016.5V525.5H1019.5V524.5H1019.5V525.5H1020.5V524.5H1020.5V523.5H1021.5V525.5H1023.5V524.5H1024.5V523.5H1025.5V526.5H1025.5V524.5H1026.5V523.5H1026.5V525.5H1028.5V526.5H1028.5V525.5H1029.5V526.5H1029.5V525.5H1030.5V524.5H1030.5V521.5H1031.5V523.5H1031.5V525.5H1032.5V524.5H1033.5V520.5H1034.5V524.5H1034.5V525.5H1036.5V526.5H1036.5V525.5H1038.5V524.5H1039.5V525.5H1040.5V524.5H1041.5V525.5H1043.5V524.5H1043.5V523.5H1044.5V524.5H1044.5V525.5H1045.5V524.5H1046.5V523.5H1046.5V525.5H1049.5V526.5H1049.5V525.5H1050.5V524.5H1050.5V525.5H1051.5V526.5H1051.5V525.5H1052.5V523.5H1052.5V524.5H1053.5V525.5H1056.5V524.5H1056.5V525.5H1057.5V524.5H1057.5V525.5H1058.5V524.5H1058.5V525.5H1059.5V524.5H1060.5V525.5H1061.5V524.5H1062.5V523.5H1063.5V525.5H1063.5V522.5H1064.5V524.5H1064.5V521.5H1065.5V524.5H1065.5V522.5H1066.5V525.5H1066.5V523.5H1067.5V524.5H1068.5V526.5H1068.5V523.5H1069.5V526.5H1069.5V524.5H1070.5V526.5H1070.5V525.5H1071.5V524.5H1072.5V525.5H1072.5V521.5H1073.5V525.5H1073.5V522.5H1074.5V525.5H1075.5V526.5H1075.5V522.5H1076.5V524.5H1076.5V525.5H1077.5V526.5H1077.5V525.5H1078.5V526.5H1078.5V524.5H1079.5V525.5H1080.5V526.5H1080.5V525.5H1081.5V521.5H1082.5V526.5H1082.5V524.5H1083.5V523.5H1084.5V525.5H1085.5V523.5H1085.5V522.5H1086.5V525.5H1087.5V523.5H1087.5V524.5H1088.5V523.5H1088.5V524.5H1089.5V523.5H1089.5V524.5H1090.5V519.5H1091.5V523.5H1092.5V525.5H1093.5V526.5H1093.5V523.5H1094.5V525.5H1094.5V524.5H1095.5V526.5H1095.5V525.5H1096.5V523.5H1097.5V525.5H1098.5V524.5H1099.5V526.5H1099.5V522.5H1100.5V525.5H1100.5V524.5H1101.5V526.5H1101.5V524.5H1102.5V525.5H1102.5V522.5H1103.5V524.5H1103.5V525.5H1104.5V523.5H1104.5V525.5H1105.5V526.5H1105.5V525.5H1106.5V526.5H1106.5V525.5H1107.5V522.5H1108.5V524.5H1108.5V525.5H1109.5V523.5H1109.5V522.5H1110.5V525.5H1112.5V524.5H1113.5V525.5H1113.5V523.5H1114.5V524.5H1114.5V522.5H1115.5V525.5H1116.5V524.5H1116.5V525.5H1117.5V524.5H1118.5V525.5H1119.5V526.5H1119.5V525.5H1120.5V524.5H1121.5V525.5H1122.5V526.5H1122.5V524.5H1123.5V525.5H1123.5V522.5H1124.5V525.5H1125.5V526.5H1125.5V524.5H1126.5V525.5H1128.5V523.5H1128.5V525.5H1129.5V526.5H1129.5V522.5H1130.5V526.5H1130.5V525.5H1131.5V526.5H1131.5V525.5H1132.5V526.5H1132.5V525.5H1133.5V526.5H1133.5V525.5H1134.5V524.5H1134.5V522.5H1135.5V523.5H1135.5V525.5H1136.5V522.5H1137.5V523.5H1137.5V525.5H1138.5V523.5H1138.5V524.5H1139.5V525.5H1139.5V524.5H1140.5V525.5H1140.5V524.5H1141.5V523.5H1142.5V526.5H1142.5V523.5H1143.5V526.5H1143.5V525.5H1144.5V526.5H1144.5V525.5H1145.5V526.5H1145.5V525.5H1148.5V524.5H1148.5V523.5H1149.5V524.5H1149.5V525.5H1151.5V526.5H1151.5V525.5H1152.5V526.5H1152.5V525.5H1153.5V523.5H1153.5V524.5H1154.5V525.5H1154.5V523.5H1155.5V526.5H1155.5V524.5H1156.5V523.5H1156.5V522.5H1157.5V525.5H1157.5V523.5H1158.5V525.5H1159.5V526.5H1159.5V524.5H1160.5V525.5H1161.5V524.5H1161.5V525.5H1162.5V523.5H1162.5V525.5H1163.5V526.5H1163.5V525.5H1164.5V524.5H1164.5V525.5H1165.5V526.5H1165.5V525.5H1166.5V523.5H1166.5V525.5H1167.5V523.5H1167.5V524.5H1168.5V523.5H1168.5V519.5H1169.5V525.5H1170.5V526.5H1170.5V522.5H1171.5V526.5H1171.5V521.5H1172.5V526.5H1172.5V525.5H1175.5V523.5H1175.5V524.5H1176.5V525.5H1177.5V526.5H1177.5V525.5H1178.5V526.5H1178.5V525.5H1179.5V524.5H1179.5V525.5H1180.5V524.5H1181.5V525.5H1182.5V526.5H1182.5V522.5H1183.5V525.5H1183.5V524.5H1184.5V525.5H1186.5V524.5H1186.5V525.5H1187.5V524.5H1187.5V522.5H1188.5V526.5H1188.5V525.5H1189.5V526.5H1189.5V525.5H1190.5V523.5H1190.5V525.5H1191.5V526.5H1191.5V524.5H1192.5V522.5H1193.5V523.5H1193.5V525.5H1195.5V526.5H1195.5V522.5H1196.5V523.5H1196.5V525.5H1197.5V522.5H1198.5V524.5H1198.5V525.5H1199.5V524.5H1199.5V525.5H1200.5V524.5H1200.5V525.5H1203.5V524.5H1204.5V525.5H1205.5V526.5H1205.5V525.5H1206.5V523.5H1207.5V525.5H1208.5V526.5H1208.5V524.5H1209.5V525.5H1209.5V523.5H1210.5V524.5H1211.5V525.5H1212.5V522.5H1213.5V525.5H1214.5V523.5H1214.5V525.5H1215.5V524.5H1216.5V525.5H1218.5V524.5H1219.5V525.5H1220.5V526.5H1220.5V525.5H1221.5V526.5H1221.5V523.5H1222.5V524.5H1222.5V523.5H1223.5V525.5H1223.5V524.5H1224.5V525.5H1224.5V524.5H1225.5V525.5H1225.5V524.5H1226.5V525.5H1227.5V526.5H1227.5V523.5H1228.5V525.5H1228.5V524.5H1229.5V525.5H1230.5V522.5H1231.5V526.5H1231.5V525.5H1233.5V526.5H1233.5V525.5H1234.5V523.5H1234.5V525.5H1235.5V523.5H1236.5V526.5H1236.5V523.5H1237.5V524.5H1237.5V525.5H1238.5V526.5H1238.5V525.5H1239.5V524.5H1239.5V525.5H1240.5V523.5H1240.5V524.5H1241.5V522.5H1242.5V524.5H1242.5V525.5H1243.5V524.5H1244.5V525.5H1245.5V523.5H1246.5V526.5H1246.5V524.5H1247.5V523.5H1248.5V525.5H1252.5V523.5H1253.5V525.5H1256.5V526.5H1256.5V524.5H1257.5V526.5H1257.5V525.5H1258.5V526.5H1258.5V525.5H1259.5V523.5H1259.5V525.5H1260.5V524.5H1261.5V525.5H1263.5V526.5H1263.5V524.5H1264.5V525.5H1265.5V526.5H1265.5V525.5H1266.5V522.5H1267.5V526.5H1267.5V525.5H1268.5V526.5H1268.5V525.5H1269.5V524.5H1270.5V525.5H1271.5V523.5H1272.5V525.5H1273.5V526.5H1273.5V525.5H1275.5V523.5H1276.5V525.5H1277.5V524.5H1278.5V525.5H1279.5V524.5H1280.5V525.5H1282.5V524.5H1283.5V523.5H1284.5V524.5H1284.5V522.5H1285.5V525.5H1286.5V523.5H1287.5V524.5H1287.5V525.5H1288.5V524.5H1289.5V525.5H1290.5V523.5H1290.5V524.5H1291.5V526.5H1291.5V525.5H1292.5V523.5H1293.5V525.5H1295.5V524.5H1295.5V525.5H1296.5V524.5H1297.5V525.5H1297.5V524.5H1298.5V526.5H1298.5V523.5H1299.5V525.5H1300.5V523.5H1300.5V525.5H1302.5V526.5H1302.5V525.5H1304.5V524.5H1305.5V525.5H1305.5V521.5H1306.5V525.5H1306.5V524.5H1307.5V526.5H1307.5V524.5H1308.5V525.5H1308.5V523.5H1309.5V525.5H1310.5V524.5H1310.5V525.5H1311.5V526.5H1311.5V523.5H1312.5V524.5H1312.5V525.5H1313.5V524.5H1314.5V523.5H1314.5V525.5H1316.5V524.5H1316.5V525.5H1320.5V524.5H1320.5V525.5H1321.5V523.5H1321.5V525.5H1322.5V523.5H1322.5V524.5H1323.5V525.5H1324.5V524.5H1325.5V523.5H1325.5V525.5H1326.5V524.5H1326.5V525.5H1327.5V526.5H1327.5V525.5H1328.5V523.5H1329.5V525.5H1330.5V526.5H1330.5V525.5H1331.5V524.5H1331.5V525.5H1332.5V524.5H1333.5V525.5H1335.5V524.5H1337.5V526.5H1337.5V523.5H1338.5V526.5H1338.5V525.5H1339.5V522.5H1340.5V525.5H1342.5V524.5H1343.5V525.5H1343.5V523.5H1344.5V525.5H1344.5V520.5H1345.5V524.5H1345.5V525.5H1346.5V523.5H1346.5V524.5H1347.5V525.5H1348.5V524.5H1348.5V525.5H1350.5V526.5H1350.5V524.5H1351.5V523.5H1351.5V525.5H1352.5V524.5H1352.5V519.5H1353.5V526.5H1353.5V525.5H1354.5V524.5H1355.5V525.5H1356.5V524.5H1356.5V525.5H1357.5V526.5H1357.5V524.5H1358.5V525.5H1358.5V524.5H1359.5V525.5H1360.5V524.5H1360.5V519.5H1361.5V524.5H1361.5V523.5H1362.5V524.5H1362.5V522.5H1363.5V526.5H1363.5V525.5H1365.5V526.5H1365.5V524.5H1366.5V522.5H1366.5M119.10,525.5L120.00,512.0L120.90,525.5M225.10,523.5L226.00,515.0L226.90,523.5M246.70,525.5L247.60,502.0L248.50,525.5M251.50,525.5L252.40,500.0L253.30,525.5M268.50,525.5L269.40,511.0L270.30,525.5M374.10,525.5L375.00,515.0L375.90,525.5M388.70,525.5L389.60,492.0L390.50,525.5M506.10,525.5L507.00,515.0L507.90,525.5M561.60,522.5L562.50,428.0L563.40,522.5M653.50,525.5L654.40,505.0L655.30,525.5M692.70,525.5L693.60,494.0L694.50,525.5M707.10,525.5L708.00,505.0L708.90,525.5M717.50,524.5L718.40,498.0L719.30,524.5M737.50,525.5L738.40,504.0L739.30,525.5M758.70,522.5L759.60,421.0L760.50,522.5M761.50,523.5L762.40,442.0L763.30,523.5M762.70,525.5L763.60,484.0L764.50,525.5M796.70,525.5L797.60,510.0L798.50,525.5M842.70,525.5L843.60,486.0L844.50,525.5M848.70,525.5L849.60,496.0L850.50,525.5M907.10,525.5L908.00,512.0L908.90,525.5M912.70,525.5L913.60,509.0L914.50,525.5M1011.10,525.5L1012.00,473.0L1012.90,525.5M1023.60,523.5L1024.50,508.0L1025.40,523.5M1054.60,525.5L1055.50,496.0L1056.40,525.5M1057.60,525.5L1058.50,496.0L1059.40,525.5M1094.80,525.5L1095.70,499.0L1096.60,525.5M1199.50,525.5L1200.40,492.0L1201.30,525.5M1286.70,525.5L1287.60,516.0L1288.50,525.5M1349.50,524.5L1350.40,512.0L1351.30,524.5" fill="none" stroke="#0080ff" stroke-width="1"/>
<line x1="149" y1="533.5" x2="207" y2="533.5" stroke="#ff0000" stroke-width="1"/>
<line x1="149" y1="531.5" x2="207" y2="531.5" stroke="#00c000" stroke-width="1"/>
<line x1="172" y1="530.5" x2="207" y2="530.5" stroke="#00c000" stroke-width="1"/>
<line x1="149" y1="526.5" x2="207" y2="526.5" stroke="#0080ff" stroke-width="1"/>
<line x1="1155" y1="522.5" x2="1366" y2="522.5" stroke="#00c000" stroke-width="1"/>
<rect x="972.8" y="481.1" width="12.8" height="12.8" fill="#00eeee"/>
<circle cx="103.90" cy="488.00" r="5.0" fill="none" stroke="#c04000" stroke-width="1.25"/>
<path d="M103.90,481.50v2M103.90,492.50v2M97.40,488.00h2M108.40,488.00h2" stroke="#c04000" stroke-width="1"/>
<circle cx="149.50" cy="488.00" r="5.0" fill="none" stroke="#c04000" stroke-width="1.25"/>
<path d="M149.50,481.50v2M149.50,492.50v2M143.00,488.00h2M154.00,488.00h2" stroke="#c04000" stroke-width="1"/>
<circle cx="208.50" cy="489.00" r="5.0" fill="none" stroke="#c04000" stroke-width="1.25"/>
<path d="M208.50,482.50v2M208.50,493.50v2M202.00,489.00h2M213.00,489.00h2" stroke="#c04000" stroke-width="1"/>
<circle cx="255.00" cy="484.40" r="5.0" fill="none" stroke="#c04000" stroke-width="1.25"/>
<path d="M255.00,477.90v2M255.00,488.90v2M248.50,484.40h2M259.50,484.40h2" stroke="#c04000" stroke-width="1"/>
<circle cx="261.40" cy="489.00" r="5.0" fill="none" stroke="#c04000" stroke-width="1.25"/>
<path d="M261.40,482.50v2M261.40,493.50v2M254.90,489.00h2M265.90,489.00h2" stroke="#c04000" stroke-width="1"/>
<circle cx="307.00" cy="489.60" r="5.0" fill="none" stroke="#c04000" stroke-width="1.25"/>
<path d="M307.00,483.10v2M307.00,494.10v2M300.50,489.60h2M311.50,489.60h2" stroke="#c04000" stroke-width="1"/>
<circle cx="314.40" cy="489.00" r="5.0" fill="none" stroke="#c04000" stroke-width="1.25"/>
<path d="M314.40,482.50v2M314.40,493.50v2M307.90,489.00h2M318.90,489.00h2" stroke="#c04000" stroke-width="1"/>
<circle cx="360.40" cy="489.60" r="5.0" fill="none" stroke="#c04000" stroke-width="1.25"/>
<path d="M360.40,483.10v2M360.40,494.10v2M353.90,489.60h2M364.90,489.60h2" stroke="#c04000" stroke-width="1"/>
<circle cx="366.60" cy="489.00" r="5.0" fill="none" stroke="#c04000" stroke-width="1.25"/>
<path d="M366.60,482.50v2M366.60,493.50v2M360.10,489.00h2M371.10,489.00h2" stroke="#c04000" stroke-width="1"/>
<circle cx="413.00" cy="487.40" r="5.0" fill="none" stroke="#c04000" stroke-width="1.25"/>
<path d="M413.00,480.90v2M413.00,491.90v2M406.50,487.40h2M417.50,487.40h2" stroke="#c04000" stroke-width="1"/>
<circle cx="419.00" cy="488.60" r="5.0" fill="none" stroke="#c04000" stroke-width="1.25"/>
<path d="M419.00,482.10v2M419.00,493.10v2M412.50,488.60h2M423.50,488.60h2" stroke="#c04000" stroke-width="1"/>
<circle cx="466.00" cy="490.60" r="5.0" fill="none" stroke="#c04000" stroke-width="1.25"/>
<path d="M466.00,484.10v2M466.00,495.10v2M459.50,490.60h2M470.50,490.60h2" stroke="#c04000" stroke-width="1"/>
<circle cx="472.60" cy="488.60" r="5.0" fill="none" stroke="#c04000" stroke-width="1.25"/>
<path d="M472.60,482.10v2M472.60,493.10v2M466.10,488.60h2M477.10,488.60h2" stroke="#c04000" stroke-width="1"/>
<circle cx="518.40" cy="488.00" r="5.0" fill="none" stroke="#c04000" stroke-width="1.25"/>
<path d="M518.40,481.50v2M518.40,492.50v2M511.90,488.00h2M522.90,488.00h2" stroke="#c04000" stroke-width="1"/>
<circle cx="524.40" cy="487.20" r="5.0" fill="none" stroke="#c04000" stroke-width="1.25"/>
<path d="M524.40,480.70v2M524.40,491.70v2M517.90,487.20h2M528.90,487.20h2" stroke="#c04000" stroke-width="1"/>
<circle cx="571.60" cy="485.00" r="5.0" fill="none" stroke="#c04000" stroke-width="1.25"/>
<path d="M571.60,478.50v2M571.60,489.50v2M565.10,485.00h2M576.10,485.00h2" stroke="#c04000" stroke-width="1"/>
<circle cx="577.60" cy="483.00" r="5.0" fill="none" stroke="#c04000" stroke-width="1.25"/>
<path d="M577.60,476.50v2M577.60,487.50v2M571.10,483.00h2M582.10,483.00h2" stroke="#c04000" stroke-width="1"/>
<circle cx="624.00" cy="489.00" r="5.0" fill="none" stroke="#c04000" stroke-width="1.25"/>
<path d="M624.00,482.50v2M624.00,493.50v2M617.50,489.00h2M628.50,489.00h2" stroke="#c04000" stroke-width="1"/>
<circle cx="630.00" cy="486.60" r="5.0" fill="none" stroke="#c04000" stroke-width="1.25"/>
<path d="M630.00,480.10v2M630.00,491.10v2M623.50,486.60h2M634.50,486.60h2" stroke="#c04000" stroke-width="1"/>
<circle cx="676.40" cy="473.40" r="5.0" fill="none" stroke="#c04000" stroke-width="1.25"/>
<path d="M676.40,466.90v2M676.40,477.90v2M669.90,473.40h2M680.90,473.40h2" stroke="#c04000" stroke-width="1"/>
<circle cx="683.40" cy="488.00" r="5.0" fill="none" stroke="#c04000" stroke-width="1.25"/>
<path d="M683.40,481.50v2M683.40,492.50v2M676.90,488.00h2M687.90,488.00h2" stroke="#c04000" stroke-width="1"/>
<circle cx="729.40" cy="479.40" r="5.0" fill="none" stroke="#c04000" stroke-width="1.25"/>
<path d="M729.40,472.90v2M729.40,483.90v2M722.90,479.40h2M733.90,479.40h2" stroke="#c04000" stroke-width="1"/>
<circle cx="735.40" cy="488.00" r="5.0" fill="none" stroke="#c04000" stroke-width="1.25"/>
<path d="M735.40,481.50v2M735.40,492.50v2M728.90,488.00h2M739.90,488.00h2" stroke="#c04000" stroke-width="1"/>
<circle cx="782.40" cy="481.40" r="5.0" fill="none" stroke="#c04000" stroke-width="1.25"/>
<path d="M782.40,474.90v2M782.40,485.90v2M775.90,481.40h2M786.90,481.40h2" stroke="#c04000" stroke-width="1"/>
<circle cx="788.40" cy="477.00" r="5.0" fill="none" stroke="#c04000" stroke-width="1.25"/>
<path d="M788.40,470.50v2M788.40,481.50v2M781.90,477.00h2M792.90,477.00h2" stroke="#c04000" stroke-width="1"/>
<circle cx="835.40" cy="472.00" r="5.0" fill="none" stroke="#c04000" stroke-width="1.25"/>
<path d="M835.40,465.50v2M835.40,476.50v2M828.90,472.00h2M839.90,472.00h2" stroke="#c04000" stroke-width="1"/>
<circle cx="841.40" cy="461.00" r="5.0" fill="none" stroke="#c04000" stroke-width="1.25"/>
<path d="M841.40,454.50v2M841.40,465.50v2M834.90,461.00h2M845.90,461.00h2" stroke="#c04000" stroke-width="1"/>
<circle cx="887.40" cy="488.00" r="5.0" fill="none" stroke="#c04000" stroke-width="1.25"/>
<path d="M887.40,481.50v2M887.40,492.50v2M880.90,488.00h2M891.90,488.00h2" stroke="#c04000" stroke-width="1"/>
<circle cx="893.60" cy="474.00" r="5.0" fill="none" stroke="#c04000" stroke-width="1.25"/>
<path d="M893.60,467.50v2M893.60,478.50v2M887.10,474.00h2M898.10,474.00h2" stroke="#c04000" stroke-width="1"/>
<circle cx="940.40" cy="481.20" r="5.0" fill="none" stroke="#c04000" stroke-width="1.25"/>
<path d="M940.40,474.70v2M940.40,485.70v2M933.90,481.20h2M944.90,481.20h2" stroke="#c04000" stroke-width="1"/>
<circle cx="946.40" cy="485.00" r="5.0" fill="none" stroke="#c04000" stroke-width="1.25"/>
<path d="M946.40,478.50v2M946.40,489.50v2M939.90,485.00h2M950.90,485.00h2" stroke="#c04000" stroke-width="1"/>
<circle cx="993.60" cy="392.60" r="5.0" fill="none" stroke="#c04000" stroke-width="1.25"/>
<path d="M993.60,386.10v2M993.60,397.10v2M987.10,392.60h2M998.10,392.60h2" stroke="#c04000" stroke-width="1"/>
<circle cx="999.60" cy="448.00" r="5.0" fill="none" stroke="#c04000" stroke-width="1.25"/>
<path d="M999.60,441.50v2M999.60,452.50v2M993.10,448.00h2M1004.10,448.00h2" stroke="#c04000" stroke-width="1"/>
<circle cx="1045.50" cy="485.00" r="5.0" fill="none" stroke="#c04000" stroke-width="1.25"/>
<path d="M1045.50,478.50v2M1045.50,489.50v2M1039.00,485.00h2M1050.00,485.00h2" stroke="#c04000" stroke-width="1"/>
<circle cx="1052.00" cy="478.00" r="5.0" fill="none" stroke="#c04000" stroke-width="1.25"/>
<path d="M1052.00,471.50v2M1052.00,482.50v2M1045.50,478.00h2M1056.50,478.00h2" stroke="#c04000" stroke-width="1"/>
<circle cx="1098.70" cy="463.00" r="5.0" fill="none" stroke="#c04000" stroke-width="1.25"/>
<path d="M1098.70,456.50v2M1098.70,467.50v2M1092.20,463.00h2M1103.20,463.00h2" stroke="#c04000" stroke-width="1"/>
<circle cx="1104.70" cy="469.00" r="5.0" fill="none" stroke="#c04000" stroke-width="1.25"/>
<path d="M1104.70,462.50v2M1104.70,473.50v2M1098.20,469.00h2M1109.20,469.00h2" stroke="#c04000" stroke-width="1"/>
<circle cx="1151.00" cy="461.00" r="5.0" fill="none" stroke="#c04000" stroke-width="1.25"/>
<path d="M1151.00,454.50v2M1151.00,465.50v2M1144.50,461.00h2M1155.50,461.00h2" stroke="#c04000" stroke-width="1"/>
<circle cx="1157.00" cy="465.00" r="5.0" fill="none" stroke="#c04000" stroke-width="1.25"/>
<path d="M1157.00,458.50v2M1157.00,469.50v2M1150.50,465.00h2M1161.50,465.00h2" stroke="#c04000" stroke-width="1"/>
<circle cx="1203.80" cy="470.70" r="5.0" fill="none" stroke="#c04000" stroke-width="1.25"/>
<path d="M1203.80,464.20v2M1203.80,475.20v2M1197.30,470.70h2M1208.30,470.70h2" stroke="#c04000" stroke-width="1"/>
<circle cx="1210.40" cy="464.00" r="5.0" fill="none" stroke="#c04000" stroke-width="1.25"/>
<path d="M1210.40,457.50v2M1210.40,468.50v2M1203.90,464.00h2M1214.90,464.00h2" stroke="#c04000" stroke-width="1"/>
<circle cx="1256.30" cy="466.00" r="5.0" fill="none" stroke="#c04000" stroke-width="1.25"/>
<path d="M1256.30,459.50v2M1256.30,470.50v2M1249.80,466.00h2M1260.80,466.00h2" stroke="#c04000" stroke-width="1"/>
<circle cx="1262.30" cy="469.00" r="5.0" fill="none" stroke="#c04000" stroke-width="1.25"/>
<path d="M1262.30,462.50v2M1262.30,473.50v2M1255.80,469.00h2M1266.80,469.00h2" stroke="#c04000" stroke-width="1"/>
<circle cx="1309.50" cy="467.00" r="5.0" fill="none" stroke="#c04000" stroke-width="1.25"/>
<path d="M1309.50,460.50v2M1309.50,471.50v2M1303.00,467.00h2M1314.00,467.00h2" stroke="#c04000" stroke-width="1"/>
<circle cx="1315.80" cy="488.00" r="5.0" fill="none" stroke="#c04000" stroke-width="1.25"/>
<path d="M1315.80,481.50v2M1315.80,492.50v2M1309.30,488.00h2M1320.30,488.00h2" stroke="#c04000" stroke-width="1"/>
<circle cx="1362.40" cy="488.00" r="5.0" fill="none" stroke="#c04000" stroke-width="1.25"/>
<path d="M1362.40,481.50v2M1362.40,492.50v2M1355.90,488.00h2M1366.90,488.00h2" stroke="#c04000" stroke-width="1"/>
<circle cx="103.90" cy="530.8" r="5.6" fill="#c8c800"/>
<path d="M103.90,524.60v12.4" stroke="#c8c800" stroke-width="1"/>
<circle cx="149.50" cy="530.8" r="5.6" fill="#c8c800"/>
<path d="M149.50,524.60v12.4" stroke="#c8c800" stroke-width="1"/>
<circle cx="208.50" cy="530.8" r="5.6" fill="#c8c800"/>
<path d="M208.50,524.60v12.4" stroke="#c8c800" stroke-width="1"/>
<circle cx="255.00" cy="530.8" r="5.6" fill="#c8c800"/>
<path d="M255.00,524.60v12.4" stroke="#c8c800" stroke-width="1"/>
<circle cx="261.40" cy="530.8" r="5.6" fill="#c8c800"/>
<path d="M261.40,524.60v12.4" stroke="#c8c800" stroke-width="1"/>
<circle cx="307.00" cy="530.8" r="5.6" fill="#c8c800"/>
<path d="M307.00,524.60v12.4" stroke="#c8c800" stroke-width="1"/>
<circle cx="314.40" cy="530.8" r="5.6" fill="#c8c800"/>
<path d="M314.40,524.60v12.4" stroke="#c8c800" stroke-width="1"/>
<circle cx="360.40" cy="530.8" r="5.6" fill="#c8c800"/>
<path d="M360.40,524.60v12.4" stroke="#c8c800" stroke-width="1"/>
<circle cx="366.60" cy="530.8" r="5.6" fill="#c8c800"/>
<path d="M366.60,524.60v12.4" stroke="#c8c800" stroke-width="1"/>
<circle cx="413.00" cy="530.8" r="5.6" fill="#c8c800"/>
<path d="M413.00,524.60v12.4" stroke="#c8c800" stroke-width="1"/>
<circle cx="419.00" cy="530.8" r="5.6" fill="#c8c800"/>
<path d="M419.00,524.60v12.4" stroke="#c8c800" stroke-width="1"/>
<circle cx="466.00" cy="530.8" r="5.6" fill="#c8c800"/>
<path d="M466.00,524.60v12.4" stroke="#c8c800" stroke-width="1"/>
<circle cx="472.60" cy="530.8" r="5.6" fill="#c8c800"/>
<path d="M472.60,524.60v12.4" stroke="#c8c800" stroke-width="1"/>
<circle cx="518.40" cy="530.8" r="5.6" fill="#c8c800"/>
<path d="M518.40,524.60v12.4" stroke="#c8c800" stroke-width="1"/>
<circle cx="524.40" cy="530.8" r="5.6" fill="#c8c800"/>
<path d="M524.40,524.60v12.4" stroke="#c8c800" stroke-width="1"/>
<circle cx="571.60" cy="530.8" r="5.6" fill="#c8c800"/>
<path d="M571.60,524.60v12.4" stroke="#c8c800" stroke-width="1"/>
<circle cx="577.60" cy="530.8" r="5.6" fill="#c8c800"/>
<path d="M577.60,524.60v12.4" stroke="#c8c800" stroke-width="1"/>
<circle cx="624.00" cy="530.8" r="5.6" fill="#c8c800"/>
<path d="M624.00,524.60v12.4" stroke="#c8c800" stroke-width="1"/>
<circle cx="630.00" cy="530.8" r="5.6" fill="#c8c800"/>
<path d="M630.00,524.60v12.4" stroke="#c8c800" stroke-width="1"/>
<circle cx="676.40" cy="530.8" r="5.6" fill="#c8c800"/>
<path d="M676.40,524.60v12.4" stroke="#c8c800" stroke-width="1"/>
<circle cx="683.40" cy="530.8" r="5.6" fill="#c8c800"/>
<path d="M683.40,524.60v12.4" stroke="#c8c800" stroke-width="1"/>
<circle cx="729.40" cy="530.8" r="5.6" fill="#c8c800"/>
<path d="M729.40,524.60v12.4" stroke="#c8c800" stroke-width="1"/>
<circle cx="735.40" cy="530.8" r="5.6" fill="#c8c800"/>
<path d="M735.40,524.60v12.4" stroke="#c8c800" stroke-width="1"/>
<circle cx="782.40" cy="530.8" r="5.6" fill="#c8c800"/>
<path d="M782.40,524.60v12.4" stroke="#c8c800" stroke-width="1"/>
<circle cx="788.40" cy="530.8" r="5.6" fill="#c8c800"/>
<path d="M788.40,524.60v12.4" stroke="#c8c800" stroke-width="1"/>
<circle cx="835.40" cy="530.8" r="5.6" fill="#c8c800"/>
<path d="M835.40,524.60v12.4" stroke="#c8c800" stroke-width="1"/>
<circle cx="841.40" cy="530.8" r="5.6" fill="#c8c800"/>
<path d="M841.40,524.60v12.4" stroke="#c8c800" stroke-width="1"/>
<circle cx="887.40" cy="530.8" r="5.6" fill="#c8c800"/>
<path d="M887.40,524.60v12.4" stroke="#c8c800" stroke-width="1"/>
<circle cx="893.60" cy="530.8" r="5.6" fill="#c8c800"/>
<path d="M893.60,524.60v12.4" stroke="#c8c800" stroke-width="1"/>
<circle cx="940.40" cy="530.8" r="5.6" fill="#c8c800"/>
<path d="M940.40,524.60v12.4" stroke="#c8c800" stroke-width="1"/>
<circle cx="946.40" cy="530.8" r="5.6" fill="#c8c800"/>
<path d="M946.40,524.60v12.4" stroke="#c8c800" stroke-width="1"/>
<circle cx="993.60" cy="530.8" r="5.6" fill="#c8c800"/>
<path d="M993.60,524.60v12.4" stroke="#c8c800" stroke-width="1"/>
<circle cx="999.60" cy="530.8" r="5.6" fill="#c8c800"/>
<path d="M999.60,524.60v12.4" stroke="#c8c800" stroke-width="1"/>
<circle cx="1045.50" cy="530.8" r="5.6" fill="#c8c800"/>
<path d="M1045.50,524.60v12.4" stroke="#c8c800" stroke-width="1"/>
<circle cx="1052.00" cy="530.8" r="5.6" fill="#c8c800"/>
<path d="M1052.00,524.60v12.4" stroke="#c8c800" stroke-width="1"/>
<circle cx="1098.70" cy="530.8" r="5.6" fill="#c8c800"/>
<path d="M1098.70,524.60v12.4" stroke="#c8c800" stroke-width="1"/>
<circle cx="1104.70" cy="530.8" r="5.6" fill="#c8c800"/>
<path d="M1104.70,524.60v12.4" stroke="#c8c800" stroke-width="1"/>
<circle cx="1151.00" cy="530.8" r="5.6" fill="#c8c800"/>
<path d="M1151.00,524.60v12.4" stroke="#c8c800" stroke-width="1"/>
<circle cx="1157.00" cy="530.8" r="5.6" fill="#c8c800"/>
<path d="M1157.00,524.60v12.4" stroke="#c8c800" stroke-width="1"/>
<circle cx="1203.80" cy="530.8" r="5.6" fill="#c8c800"/>
<path d="M1203.80,524.60v12.4" stroke="#c8c800" stroke-width="1"/>
<circle cx="1210.40" cy="530.8" r="5.6" fill="#c8c800"/>
<path d="M1210.40,524.60v12.4" stroke="#c8c800" stroke-width="1"/>
<circle cx="1256.30" cy="530.8" r="5.6" fill="#c8c800"/>
<path d="M1256.30,524.60v12.4" stroke="#c8c800" stroke-width="1"/>
<circle cx="1262.30" cy="530.8" r="5.6" fill="#c8c800"/>
<path d="M1262.30,524.60v12.4" stroke="#c8c800" stroke-width="1"/>
<circle cx="1309.50" cy="530.8" r="5.6" fill="#c8c800"/>
<path d="M1309.50,524.60v12.4" stroke="#c8c800" stroke-width="1"/>
<circle cx="1315.80" cy="530.8" r="5.6" fill="#c8c800"/>
<path d="M1315.80,524.60v12.4" stroke="#c8c800" stroke-width="1"/>
<circle cx="1362.40" cy="530.8" r="5.6" fill="#c8c800"/>
<path d="M1362.40,524.60v12.4" stroke="#c8c800" stroke-width="1"/>
<polygon points="1028.80,468.60 1045.20,468.60 1037.00,456.60" fill="none" stroke="#4169e1" stroke-width="1"/>
<polygon points="1047.30,468.60 1063.70,468.60 1055.50,456.60" fill="none" stroke="#4169e1" stroke-width="1"/>
<polygon points="1051.30,468.60 1067.70,468.60 1059.50,456.60" fill="none" stroke="#4169e1" stroke-width="1"/>
<polygon points="93,350 163,350 155,362.7 101,362.7" fill="#306080"/>
<polygon points="198.6,350 1374,350 1366,362.7 207,362.7" fill="#306080"/>
<polygon points="440.6,363 443.0,363 441.8,361.2" fill="#fff"/>
<polygon points="508.8,363 511.2,363 510.0,361.2" fill="#fff"/>
<polygon points="579.2,363 581.6,363 580.4,361.2" fill="#fff"/>
<polygon points="714.1,363 716.5,363 715.3,361.2" fill="#fff"/>
<polygon points="783.8,363 786.2,363 785.0,361.2" fill="#fff"/>
<polygon points="921.3,363 923.7,363 922.5,361.2" fill="#fff"/>
<polygon points="988.3,363 990.7,363 989.5,361.2" fill="#fff"/>
<polygon points="1053.8,363 1056.2,363 1055.0,361.2" fill="#fff"/>
<polygon points="1111.2,363 1113.6,363 1112.4,361.2" fill="#fff"/>
<polygon points="1182.1,363 1184.5,363 1183.3,361.2" fill="#fff"/>
<polygon points="1315.8,363 1318.2,363 1317.0,361.2" fill="#fff"/>
<line x1="985.5" y1="349" x2="985.5" y2="364" stroke="#ff0000" stroke-width="1"/></g>
<g><path d="M101.5,57.5H1366.5V539.5H101.5Z" fill="none" stroke="#000" stroke-width="1"/></g>
</svg>
</body></html>
